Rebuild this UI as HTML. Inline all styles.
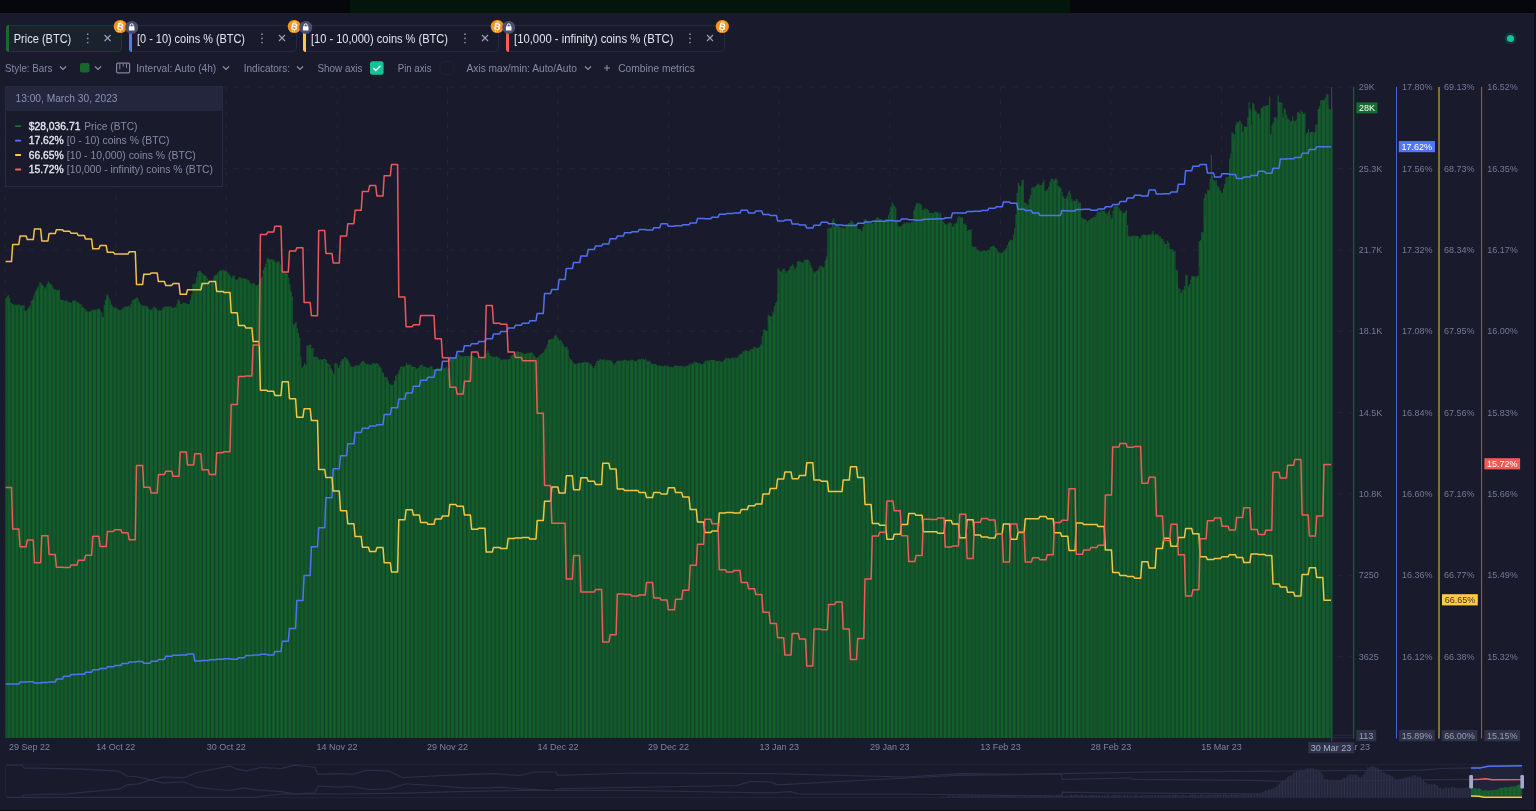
<!DOCTYPE html>
<html><head><meta charset="utf-8"><title>chart</title><style>
*{box-sizing:border-box;margin:0;padding:0}
html,body{width:1536px;height:811px;overflow:hidden;background:#191b2d;font-family:"Liberation Sans",sans-serif;}
body{position:relative}
.chart{position:absolute;left:0;top:0;font-family:"Liberation Sans",sans-serif;}
.topbar{position:absolute;left:0;top:0;width:1536px;height:13px;background:#06070c}
.topbar i{position:absolute;left:350px;top:0;width:720px;height:13px;background:#04150b}
.botbar{position:absolute;left:0;top:809.6px;width:1536px;height:2px;background:#07080d}
.mb{position:absolute;top:25px;height:27px;border:1px solid #25283e;border-radius:4px;color:#e2e4f0;font-size:12px;letter-spacing:-0.45px;line-height:25px;white-space:nowrap}
.mb b{position:absolute;left:-1px;top:-1px;bottom:-1px;width:3.4px;border-radius:4px 0 0 4px}
.mb span{position:absolute;top:0}
.mb .d{color:#8b90ad;font-size:15px;letter-spacing:0;top:-1px}
.mb .x{color:#9da1bd;font-size:14px;letter-spacing:0;top:0px;font-weight:400}
.ic{position:absolute;width:13px;height:13px;border-radius:50%}
.tb{position:absolute;top:61px;height:14px;line-height:14px;font-size:11px;color:#8b90ad;white-space:nowrap;letter-spacing:-0.2px}
.tip{position:absolute;left:5px;top:86px;width:218px;height:100.5px;border:1px solid #272a41;background:#191b2d}
.tip .h{position:absolute;left:0;top:0;right:0;height:24px;background:#23263d;color:#8d92b0;font-size:11px;line-height:23px;padding-left:9.5px;letter-spacing:-0.05px}
.tip .r{position:absolute;left:22.5px;font-size:10.5px;line-height:12px;color:#858aa6;white-space:nowrap;letter-spacing:-0.1px}
.tip .r b{color:#eceef6;font-weight:700;letter-spacing:-0.2px}
.tip .r i{position:absolute;left:-13px;top:5px;width:6px;height:1.8px;border-radius:1px}
</style></head><body><div id="w" style="position:absolute;left:0;top:0;width:1536px;height:811px;filter:blur(0.28px)">
<div class="topbar"><i></i></div>
<svg class="chart" width="1536" height="811" viewBox="0 0 1536 811">
<path d="M5.2 87.2V738.0M115.7 87.2V738.0M226.3 87.2V738.0M336.9 87.2V738.0M447.5 87.2V738.0M558.0 87.2V738.0M668.6 87.2V738.0M779.2 87.2V738.0M889.8 87.2V738.0M1000.4 87.2V738.0M1110.9 87.2V738.0M1221.5 87.2V738.0M5 87.2H1352M5 168.6H1352M5 249.9H1352M5 331.2H1352M5 412.6H1352M5 493.9H1352M5 575.3H1352M5 656.6H1352" stroke="#25283f" stroke-width="1" stroke-dasharray="5 7" fill="none" opacity="0.7"/>
<g style="filter:blur(0.3px)"><path d="M5.30 738.0V298.5h1.214V296.2h1.214V295.2h1.214V297.9h1.214V302.6h1.214V303.5h1.214V304.0h1.214V305.3h1.214V304.5h1.214V305.2h1.214V304.5h1.214V304.6h1.214V305.2h1.214V306.1h1.214V305.1h1.214V305.5h1.214V310.4h1.214V310.8h1.214V308.7h1.214V306.8h1.214V305.3h1.214V300.8h1.214V299.4h1.214V295.5h1.214V292.5h1.214V289.7h1.214V287.4h1.214V285.8h1.214V282.1h1.214V283.3h1.214V284.8h1.214V285.8h1.214V288.2h1.214V286.6h1.214V283.8h1.214V281.2h1.214V282.9h1.214V284.0h1.214V285.5h1.214V287.8h1.214V289.4h1.214V289.2h1.214V290.2h1.214V290.1h1.214V289.8h1.214V299.2h1.214V300.0h1.214V300.0h1.214V300.8h1.214V300.7h1.214V300.2h1.214V302.2h1.214V301.5h1.214V302.8h1.214V302.7h1.214V300.8h1.214V300.6h1.214V300.0h1.214V301.6h1.214V302.3h1.214V302.5h1.214V304.1h1.214V304.5h1.214V306.5h1.214V307.7h1.214V308.7h1.214V309.5h1.214V311.2h1.214V311.7h1.214V310.9h1.214V311.3h1.214V309.6h1.214V310.2h1.214V309.5h1.214V309.5h1.214V309.3h1.214V308.5h1.214V308.8h1.214V310.9h1.214V312.6h1.214V317.0h1.214V305.1h1.214V299.9h1.214V295.4h1.214V294.3h1.214V298.2h1.214V300.5h1.214V304.4h1.214V306.3h1.214V308.0h1.214V307.1h1.214V308.2h1.214V308.8h1.214V309.9h1.214V310.1h1.214V310.1h1.214V308.2h1.214V307.5h1.214V306.5h1.214V306.4h1.214V306.4h1.214V305.8h1.214V306.7h1.214V304.1h1.214V300.4h1.214V299.7h1.214V299.3h1.214V298.1h1.214V297.0h1.214V299.3h1.214V302.1h1.214V304.3h1.214V305.5h1.214V305.4h1.214V305.5h1.214V306.0h1.214V306.5h1.214V306.2h1.214V309.0h1.214V310.0h1.214V309.3h1.214V308.2h1.214V306.5h1.214V307.6h1.214V308.4h1.214V310.5h1.214V310.0h1.214V310.5h1.214V310.5h1.214V308.3h1.214V307.3h1.214V306.6h1.214V306.4h1.214V306.6h1.214V306.4h1.214V306.7h1.214V306.1h1.214V307.9h1.214V307.7h1.214V307.1h1.214V307.3h1.214V303.5h1.214V299.6h1.214V300.8h1.214V304.0h1.214V303.9h1.214V302.4h1.214V303.0h1.214V303.0h1.214V303.5h1.214V304.0h1.214V303.9h1.214V300.1h1.214V294.0h1.214V283.8h1.214V284.7h1.214V283.1h1.214V276.9h1.214V272.4h1.214V271.1h1.214V270.7h1.214V272.2h1.214V273.6h1.214V274.4h1.214V275.5h1.214V276.1h1.214V278.5h1.214V280.2h1.214V283.2h1.214V282.2h1.214V280.9h1.214V277.8h1.214V275.2h1.214V274.8h1.214V273.8h1.214V272.2h1.214V270.8h1.214V270.2h1.214V270.4h1.214V269.7h1.214V270.6h1.214V270.7h1.214V271.4h1.214V272.7h1.214V274.4h1.214V275.8h1.214V278.1h1.214V275.6h1.214V275.4h1.214V279.3h1.214V280.2h1.214V279.2h1.214V277.3h1.214V276.9h1.214V278.1h1.214V279.1h1.214V278.3h1.214V278.0h1.214V279.2h1.214V279.8h1.214V279.9h1.214V282.0h1.214V284.3h1.214V283.3h1.214V282.8h1.214V284.3h1.214V285.5h1.214V285.0h1.214V284.1h1.214V280.9h1.214V278.5h1.214V276.2h1.214V270.0h1.214V267.0h1.214V263.7h1.214V259.1h1.214V257.5h1.214V259.2h1.214V259.4h1.214V259.1h1.214V259.6h1.214V260.3h1.214V262.3h1.214V262.5h1.214V260.9h1.214V261.8h1.214V264.2h1.214V268.3h1.214V272.0h1.214V272.6h1.214V272.1h1.214V272.2h1.214V274.1h1.214V277.6h1.214V284.2h1.214V291.8h1.214V296.5h1.214V324.7h1.214V323.2h1.214V321.8h1.214V328.0h1.214V333.1h1.214V337.7h1.214V356.4h1.214V368.1h1.214V366.0h1.214V363.1h1.214V365.0h1.214V345.7h1.214V345.6h1.214V344.6h1.214V344.7h1.214V348.6h1.214V348.1h1.214V356.9h1.214V356.8h1.214V356.6h1.214V357.4h1.214V359.8h1.214V359.1h1.214V359.9h1.214V359.0h1.214V359.0h1.214V358.9h1.214V360.1h1.214V362.9h1.214V364.1h1.214V365.1h1.214V368.3h1.214V371.0h1.214V373.8h1.214V363.2h1.214V363.3h1.214V364.5h1.214V367.5h1.214V365.0h1.214V361.6h1.214V359.2h1.214V358.8h1.214V357.0h1.214V357.4h1.214V358.8h1.214V360.5h1.214V363.1h1.214V365.2h1.214V367.1h1.214V366.7h1.214V366.4h1.214V365.6h1.214V365.2h1.214V365.5h1.214V365.1h1.214V363.7h1.214V361.7h1.214V360.7h1.214V361.4h1.214V363.0h1.214V364.3h1.214V363.7h1.214V364.2h1.214V364.9h1.214V364.7h1.214V363.3h1.214V363.3h1.214V363.8h1.214V363.1h1.214V363.4h1.214V363.9h1.214V366.3h1.214V368.1h1.214V371.4h1.214V373.1h1.214V377.1h1.214V377.6h1.214V377.1h1.214V380.7h1.214V384.6h1.214V383.6h1.214V385.2h1.214V384.4h1.214V380.4h1.214V375.8h1.214V375.1h1.214V373.5h1.214V370.0h1.214V367.1h1.214V366.8h1.214V366.6h1.214V366.8h1.214V366.0h1.214V363.0h1.214V364.4h1.214V364.7h1.214V364.5h1.214V365.6h1.214V366.7h1.214V367.1h1.214V366.9h1.214V368.8h1.214V367.9h1.214V367.6h1.214V365.5h1.214V365.1h1.214V364.6h1.214V366.7h1.214V366.5h1.214V367.0h1.214V367.8h1.214V368.0h1.214V367.3h1.214V365.9h1.214V366.6h1.214V368.9h1.214V369.2h1.214V369.3h1.214V368.0h1.214V367.7h1.214V368.6h1.214V367.9h1.214V367.0h1.214V368.4h1.214V367.6h1.214V367.7h1.214V366.7h1.214V368.5h1.214V368.1h1.214V356.6h1.214V358.1h1.214V357.3h1.214V357.1h1.214V357.5h1.214V357.1h1.214V354.9h1.214V353.6h1.214V355.3h1.214V356.2h1.214V356.6h1.214V356.4h1.214V356.0h1.214V356.0h1.214V356.0h1.214V355.7h1.214V356.3h1.214V355.2h1.214V355.7h1.214V355.8h1.214V356.9h1.214V357.0h1.214V357.9h1.214V357.3h1.214V358.5h1.214V358.0h1.214V357.2h1.214V357.5h1.214V358.2h1.214V354.5h1.214V353.4h1.214V350.4h1.214V352.7h1.214V355.5h1.214V356.2h1.214V356.4h1.214V356.7h1.214V357.3h1.214V356.1h1.214V357.0h1.214V357.6h1.214V358.7h1.214V359.4h1.214V360.0h1.214V359.3h1.214V359.3h1.214V359.0h1.214V360.0h1.214V359.0h1.214V358.7h1.214V356.2h1.214V355.1h1.214V353.9h1.214V353.0h1.214V351.8h1.214V351.3h1.214V351.4h1.214V352.1h1.214V352.0h1.214V352.9h1.214V353.0h1.214V354.2h1.214V354.1h1.214V353.2h1.214V352.5h1.214V353.6h1.214V352.3h1.214V352.6h1.214V353.2h1.214V355.1h1.214V356.5h1.214V357.8h1.214V357.2h1.214V356.5h1.214V354.4h1.214V354.0h1.214V352.8h1.214V352.4h1.214V349.8h1.214V347.7h1.214V344.8h1.214V339.9h1.214V339.6h1.214V339.1h1.214V339.1h1.214V338.6h1.214V335.8h1.214V334.4h1.214V336.8h1.214V338.4h1.214V340.5h1.214V339.8h1.214V341.7h1.214V344.2h1.214V346.8h1.214V347.3h1.214V346.6h1.214V350.0h1.214V356.7h1.214V359.0h1.214V359.8h1.214V362.1h1.214V363.5h1.214V364.0h1.214V363.7h1.214V363.5h1.214V362.8h1.214V363.1h1.214V362.6h1.214V362.7h1.214V362.0h1.214V361.8h1.214V362.1h1.214V362.6h1.214V362.3h1.214V363.7h1.214V363.9h1.214V366.0h1.214V368.1h1.214V365.8h1.214V362.9h1.214V360.6h1.214V360.7h1.214V359.4h1.214V359.2h1.214V359.5h1.214V359.9h1.214V359.1h1.214V360.6h1.214V359.9h1.214V359.5h1.214V359.9h1.214V360.7h1.214V360.4h1.214V363.0h1.214V365.1h1.214V363.0h1.214V361.6h1.214V360.5h1.214V360.7h1.214V360.8h1.214V360.6h1.214V360.7h1.214V359.7h1.214V359.8h1.214V360.0h1.214V361.0h1.214V360.2h1.214V360.7h1.214V359.7h1.214V359.8h1.214V360.2h1.214V361.0h1.214V360.9h1.214V360.5h1.214V359.3h1.214V359.3h1.214V359.2h1.214V359.2h1.214V358.6h1.214V360.0h1.214V358.8h1.214V360.6h1.214V361.4h1.214V360.6h1.214V362.2h1.214V363.6h1.214V364.4h1.214V363.9h1.214V364.1h1.214V364.5h1.214V366.1h1.214V365.0h1.214V365.9h1.214V365.4h1.214V366.0h1.214V366.6h1.214V364.9h1.214V365.9h1.214V365.5h1.214V366.8h1.214V367.1h1.214V366.6h1.214V367.5h1.214V366.6h1.214V365.6h1.214V365.3h1.214V366.1h1.214V366.1h1.214V366.0h1.214V365.7h1.214V366.2h1.214V366.2h1.214V367.3h1.214V365.6h1.214V366.2h1.214V365.5h1.214V363.5h1.214V364.4h1.214V363.6h1.214V363.4h1.214V361.8h1.214V362.1h1.214V362.3h1.214V363.5h1.214V363.0h1.214V363.2h1.214V363.9h1.214V364.3h1.214V362.4h1.214V360.7h1.214V360.9h1.214V359.9h1.214V361.1h1.214V359.8h1.214V359.9h1.214V360.3h1.214V359.7h1.214V360.1h1.214V361.1h1.214V361.0h1.214V360.9h1.214V360.6h1.214V361.6h1.214V362.2h1.214V360.7h1.214V359.6h1.214V357.5h1.214V358.7h1.214V358.1h1.214V358.6h1.214V358.4h1.214V357.7h1.214V357.2h1.214V358.8h1.214V357.3h1.214V357.9h1.214V356.7h1.214V355.1h1.214V354.3h1.214V353.5h1.214V351.5h1.214V351.4h1.214V350.0h1.214V350.4h1.214V350.9h1.214V351.3h1.214V350.1h1.214V349.1h1.214V349.2h1.214V347.3h1.214V346.8h1.214V348.1h1.214V348.3h1.214V347.4h1.214V346.6h1.214V344.3h1.214V336.2h1.214V329.8h1.214V329.7h1.214V330.3h1.214V330.9h1.214V314.8h1.214V315.7h1.214V316.5h1.214V316.6h1.214V311.8h1.214V306.1h1.214V303.2h1.214V301.6h1.214V268.4h1.214V269.9h1.214V271.8h1.214V271.3h1.214V269.3h1.214V268.5h1.214V270.5h1.214V272.5h1.214V271.1h1.214V269.8h1.214V267.1h1.214V265.8h1.214V264.3h1.214V266.6h1.214V269.3h1.214V267.3h1.214V261.4h1.214V261.2h1.214V260.9h1.214V262.1h1.214V262.9h1.214V261.6h1.214V259.6h1.214V260.0h1.214V259.2h1.214V260.1h1.214V261.8h1.214V264.8h1.214V268.0h1.214V271.3h1.214V272.7h1.214V271.6h1.214V270.9h1.214V269.5h1.214V266.9h1.214V265.5h1.214V266.0h1.214V266.8h1.214V267.6h1.214V260.5h1.214V256.6h1.214V229.2h1.214V227.5h1.214V228.2h1.214V227.3h1.214V220.3h1.214V217.9h1.214V225.6h1.214V225.3h1.214V225.4h1.214V226.0h1.214V227.1h1.214V227.7h1.214V227.3h1.214V227.9h1.214V228.6h1.214V226.3h1.214V224.4h1.214V223.2h1.214V222.9h1.214V220.8h1.214V221.3h1.214V222.4h1.214V224.0h1.214V224.1h1.214V226.5h1.214V228.9h1.214V228.9h1.214V229.3h1.214V230.9h1.214V226.7h1.214V219.3h1.214V219.5h1.214V219.8h1.214V221.6h1.214V222.7h1.214V222.9h1.214V223.2h1.214V223.2h1.214V222.4h1.214V219.8h1.214V218.1h1.214V217.3h1.214V217.9h1.214V219.1h1.214V218.9h1.214V220.7h1.214V220.3h1.214V219.4h1.214V218.4h1.214V219.3h1.214V215.1h1.214V212.3h1.214V206.7h1.214V202.2h1.214V204.2h1.214V205.8h1.214V207.6h1.214V220.4h1.214V226.2h1.214V226.5h1.214V226.3h1.214V225.5h1.214V223.8h1.214V222.6h1.214V223.4h1.214V222.3h1.214V223.0h1.214V222.5h1.214V223.6h1.214V221.9h1.214V221.5h1.214V210.5h1.214V206.7h1.214V203.3h1.214V203.3h1.214V203.6h1.214V203.7h1.214V204.6h1.214V210.3h1.214V209.4h1.214V208.3h1.214V208.7h1.214V209.3h1.214V210.1h1.214V212.9h1.214V212.7h1.214V213.0h1.214V213.2h1.214V212.3h1.214V211.4h1.214V211.9h1.214V212.4h1.214V213.8h1.214V212.7h1.214V218.3h1.214V221.9h1.214V222.7h1.214V224.1h1.214V224.6h1.214V223.6h1.214V222.4h1.214V222.5h1.214V223.4h1.214V226.9h1.214V224.5h1.214V223.6h1.214V222.5h1.214V218.1h1.214V216.3h1.214V217.3h1.214V217.6h1.214V217.4h1.214V224.3h1.214V223.0h1.214V224.8h1.214V231.1h1.214V229.9h1.214V230.0h1.214V229.1h1.214V245.7h1.214V246.9h1.214V246.5h1.214V247.0h1.214V249.5h1.214V250.5h1.214V251.1h1.214V251.8h1.214V250.9h1.214V250.6h1.214V250.0h1.214V251.1h1.214V251.0h1.214V249.9h1.214V249.8h1.214V247.3h1.214V246.5h1.214V245.7h1.214V245.9h1.214V247.7h1.214V248.6h1.214V250.4h1.214V252.4h1.214V252.5h1.214V253.3h1.214V251.9h1.214V251.6h1.214V249.9h1.214V247.9h1.214V245.0h1.214V242.0h1.214V239.6h1.214V240.0h1.214V240.5h1.214V234.5h1.214V228.1h1.214V214.5h1.214V193.0h1.214V182.5h1.214V185.2h1.214V187.1h1.214V180.3h1.214V179.5h1.214V202.7h1.214V202.7h1.214V203.8h1.214V205.6h1.214V198.6h1.214V194.9h1.214V188.0h1.214V187.0h1.214V187.5h1.214V186.6h1.214V185.3h1.214V183.5h1.214V184.5h1.214V185.2h1.214V185.0h1.214V182.5h1.214V179.8h1.214V191.0h1.214V190.4h1.214V188.9h1.214V187.0h1.214V181.7h1.214V178.9h1.214V178.6h1.214V180.5h1.214V179.4h1.214V178.1h1.214V180.3h1.214V185.7h1.214V186.4h1.214V188.0h1.214V191.8h1.214V196.3h1.214V198.4h1.214V198.7h1.214V196.1h1.214V192.7h1.214V190.6h1.214V193.6h1.214V199.1h1.214V201.2h1.214V200.6h1.214V201.0h1.214V199.1h1.214V200.7h1.214V202.5h1.214V202.7h1.214V217.4h1.214V218.6h1.214V219.5h1.214V218.9h1.214V220.6h1.214V221.5h1.214V220.0h1.214V219.7h1.214V217.9h1.214V218.2h1.214V216.8h1.214V217.3h1.214V214.8h1.214V211.5h1.214V211.8h1.214V211.8h1.214V210.1h1.214V210.7h1.214V211.1h1.214V210.7h1.214V213.1h1.214V214.2h1.214V212.2h1.214V210.3h1.214V215.0h1.214V218.3h1.214V211.1h1.214V205.9h1.214V205.3h1.214V205.7h1.214V206.2h1.214V207.7h1.214V209.8h1.214V211.2h1.214V212.9h1.214V212.8h1.214V211.3h1.214V210.5h1.214V225.0h1.214V235.9h1.214V236.2h1.214V236.4h1.214V235.4h1.214V235.4h1.214V236.2h1.214V235.5h1.214V235.8h1.214V236.6h1.214V238.5h1.214V236.4h1.214V235.3h1.214V234.6h1.214V234.4h1.214V234.9h1.214V235.3h1.214V234.4h1.214V234.3h1.214V235.5h1.214V233.5h1.214V231.0h1.214V234.9h1.214V233.8h1.214V234.4h1.214V234.5h1.214V236.3h1.214V236.4h1.214V238.5h1.214V238.9h1.214V240.9h1.214V244.2h1.214V243.8h1.214V240.6h1.214V243.1h1.214V249.1h1.214V249.4h1.214V249.2h1.214V251.0h1.214V251.6h1.214V269.8h1.214V270.3h1.214V288.8h1.214V288.4h1.214V292.9h1.214V289.8h1.214V289.8h1.214V285.9h1.214V274.5h1.214V275.4h1.214V286.4h1.214V283.9h1.214V279.4h1.214V275.7h1.214V276.2h1.214V276.0h1.214V277.6h1.214V276.1h1.214V275.4h1.214V241.2h1.214V240.0h1.214V231.8h1.214V232.4h1.214V197.9h1.214V193.2h1.214V194.6h1.214V189.3h1.214V190.2h1.214V179.1h1.214V154.9h1.214V176.0h1.214V180.1h1.214V181.2h1.214V179.9h1.214V185.4h1.214V186.8h1.214V189.9h1.214V191.5h1.214V192.9h1.214V188.2h1.214V183.8h1.214V177.6h1.214V177.0h1.214V176.8h1.214V158.4h1.214V153.4h1.214V132.2h1.214V133.5h1.214V134.5h1.214V125.2h1.214V122.1h1.214V122.8h1.214V120.7h1.214V121.6h1.214V123.7h1.214V131.6h1.214V126.4h1.214V126.5h1.214V126.7h1.214V117.2h1.214V102.3h1.214V108.7h1.214V124.6h1.214V102.8h1.214V103.7h1.214V110.7h1.214V111.8h1.214V113.9h1.214V113.1h1.214V119.1h1.214V108.4h1.214V107.4h1.214V106.1h1.214V106.3h1.214V105.6h1.214V105.1h1.214V105.2h1.214V96.4h1.214V135.0h1.214V125.1h1.214V122.3h1.214V117.2h1.214V117.2h1.214V118.6h1.214V95.4h1.214V101.9h1.214V102.0h1.214V103.0h1.214V117.5h1.214V108.0h1.214V109.8h1.214V114.7h1.214V118.3h1.214V119.8h1.214V121.3h1.214V121.1h1.214V116.2h1.214V121.1h1.214V120.7h1.214V119.4h1.214V112.2h1.214V112.2h1.214V113.5h1.214V110.2h1.214V112.1h1.214V114.0h1.214V112.4h1.214V133.6h1.214V132.3h1.214V129.0h1.214V132.3h1.214V131.7h1.214V131.6h1.214V132.4h1.214V132.5h1.214V124.6h1.214V124.8h1.214V109.0h1.214V106.2h1.214V100.6h1.214V100.1h1.214V99.9h1.214V99.8h1.214V97.8h1.214V93.4h1.214V94.4h1.214V109.2h1.214V109.5h1.214V738.0Z" fill="#14542b"/>
<path d="" stroke="#173a2f" stroke-width="1.25" fill="none" opacity="0.17"/>
<path d="M6.90 299.5V738.0M51.67 287.5V738.0M55.74 290.6V738.0M59.81 300.7V738.0M63.88 301.2V738.0M67.95 303.0V738.0M112.72 308.2V738.0M116.79 309.7V738.0M120.86 310.5V738.0M124.93 308.3V738.0M129.00 308.4V738.0M173.77 308.7V738.0M177.84 305.0V738.0M181.91 304.4V738.0M185.98 305.2V738.0M190.05 305.4V738.0M234.82 280.1V738.0M238.89 279.2V738.0M242.96 280.7V738.0M247.03 280.4V738.0M251.10 285.7V738.0M295.87 326.3V738.0M299.94 351.5V738.0M304.01 367.9V738.0M308.08 353.5V738.0M312.15 350.3V738.0M356.92 366.3V738.0M360.99 365.0V738.0M365.06 363.9V738.0M369.13 365.2V738.0M373.20 365.0V738.0M417.97 368.5V738.0M422.04 366.8V738.0M426.11 369.0V738.0M430.18 367.8V738.0M434.25 370.0V738.0M479.02 359.2V738.0M483.09 358.7V738.0M487.16 354.5V738.0M491.23 357.4V738.0M495.30 357.4V738.0M540.07 357.2V738.0M544.14 353.9V738.0M548.21 346.2V738.0M552.28 339.9V738.0M556.35 338.0V738.0M601.12 360.4V738.0M605.19 361.2V738.0M609.26 361.3V738.0M613.33 365.1V738.0M617.40 362.8V738.0M662.17 367.1V738.0M666.24 366.5V738.0M670.31 368.1V738.0M674.38 367.6V738.0M678.45 367.3V738.0M723.22 362.5V738.0M727.29 359.3V738.0M731.36 359.1V738.0M735.43 359.0V738.0M739.50 357.1V738.0M784.27 271.2V738.0M788.34 272.2V738.0M792.41 267.0V738.0M796.48 270.5V738.0M800.55 264.1V738.0M845.32 230.1V738.0M849.39 224.6V738.0M853.46 223.9V738.0M857.53 230.1V738.0M861.60 230.9V738.0M906.37 224.0V738.0M910.44 223.9V738.0M914.51 217.3V738.0M918.58 204.1V738.0M922.65 211.0V738.0M967.42 231.7V738.0M971.49 244.1V738.0M975.56 248.6V738.0M979.63 252.6V738.0M983.70 252.1V738.0M1028.47 206.2V738.0M1032.54 188.8V738.0M1036.61 188.1V738.0M1040.68 186.1V738.0M1044.75 190.1V738.0M1089.52 221.9V738.0M1093.59 218.3V738.0M1097.66 214.3V738.0M1101.73 211.8V738.0M1105.80 215.4V738.0M1150.57 236.2V738.0M1154.64 235.1V738.0M1158.71 236.7V738.0M1162.78 240.8V738.0M1166.85 244.5V738.0M1211.62 179.7V738.0M1215.69 181.9V738.0M1219.76 191.9V738.0M1223.83 193.4V738.0M1227.90 178.7V738.0M1272.67 131.7V738.0M1276.74 118.9V738.0M1280.81 104.6V738.0M1284.88 112.3V738.0M1288.95 121.2V738.0" stroke="#173a2f" stroke-width="1.25" fill="none" opacity="0.34"/>
<path d="M10.97 304.5V738.0M15.04 306.3V738.0M43.53 288.4V738.0M47.60 286.5V738.0M72.02 303.4V738.0M76.09 302.6V738.0M104.58 309.5V738.0M108.65 299.5V738.0M133.07 301.6V738.0M137.14 299.7V738.0M165.63 308.5V738.0M169.70 308.1V738.0M194.12 286.6V738.0M198.19 275.1V738.0M226.68 273.9V738.0M230.75 278.5V738.0M255.17 286.0V738.0M259.24 285.1V738.0M287.73 276.8V738.0M291.80 300.1V738.0M316.22 358.1V738.0M320.29 360.3V738.0M348.78 364.2V738.0M352.85 367.9V738.0M377.27 365.0V738.0M381.34 371.3V738.0M409.83 366.6V738.0M413.90 368.5V738.0M438.32 369.6V738.0M442.39 368.9V738.0M470.88 356.7V738.0M474.95 358.9V738.0M499.37 359.5V738.0M503.44 361.2V738.0M531.93 355.0V738.0M536.00 359.1V738.0M560.42 341.8V738.0M564.49 348.5V738.0M592.98 368.9V738.0M597.05 363.6V738.0M621.47 361.4V738.0M625.54 361.5V738.0M654.03 365.2V738.0M658.10 366.5V738.0M682.52 367.6V738.0M686.59 367.5V738.0M715.08 361.3V738.0M719.15 361.4V738.0M743.57 353.0V738.0M747.64 352.5V738.0M776.13 305.1V738.0M780.20 273.9V738.0M804.62 261.6V738.0M808.69 261.5V738.0M837.18 227.2V738.0M841.25 228.8V738.0M865.67 221.5V738.0M869.74 224.1V738.0M898.23 227.3V738.0M902.30 227.8V738.0M926.72 210.0V738.0M930.79 214.0V738.0M959.28 218.4V738.0M963.35 225.8V738.0M987.77 251.2V738.0M991.84 248.7V738.0M1020.33 188.0V738.0M1024.40 204.0V738.0M1048.82 189.1V738.0M1052.89 180.8V738.0M1081.38 218.5V738.0M1085.45 221.7V738.0M1109.87 215.3V738.0M1113.94 212.2V738.0M1142.43 237.0V738.0M1146.50 235.4V738.0M1170.92 250.7V738.0M1174.99 252.7V738.0M1203.48 240.8V738.0M1207.55 195.1V738.0M1231.97 151.9V738.0M1236.04 130.6V738.0M1264.53 107.6V738.0M1268.60 106.8V738.0M1293.02 125.5V738.0M1297.09 121.3V738.0M1325.58 99.5V738.0M1329.65 111.1V738.0" stroke="#173a2f" stroke-width="1.25" fill="none" opacity="0.51"/>
<path d="M19.11 306.3V738.0M23.18 307.0V738.0M27.25 311.1V738.0M31.32 304.7V738.0M35.39 295.2V738.0M39.46 286.3V738.0M80.16 305.6V738.0M84.23 309.7V738.0M88.30 311.9V738.0M92.37 311.7V738.0M96.44 309.8V738.0M100.51 312.7V738.0M141.21 305.7V738.0M145.28 307.0V738.0M149.35 310.2V738.0M153.42 308.8V738.0M157.49 311.5V738.0M161.56 312.5V738.0M202.26 273.9V738.0M206.33 279.2V738.0M210.40 283.5V738.0M214.47 278.8V738.0M218.54 273.3V738.0M222.61 271.3V738.0M263.31 273.9V738.0M267.38 261.4V738.0M271.45 260.9V738.0M275.52 263.0V738.0M279.59 264.7V738.0M283.66 273.6V738.0M324.36 359.9V738.0M328.43 366.0V738.0M332.50 375.1V738.0M336.57 365.8V738.0M340.64 365.7V738.0M344.71 359.2V738.0M385.41 378.4V738.0M389.48 385.0V738.0M393.55 385.7V738.0M397.62 375.5V738.0M401.69 368.1V738.0M405.76 367.2V738.0M446.46 368.7V738.0M450.53 362.0V738.0M454.60 358.4V738.0M458.67 356.1V738.0M462.74 358.4V738.0M466.81 357.6V738.0M507.51 360.7V738.0M511.58 358.3V738.0M515.65 353.6V738.0M519.72 353.5V738.0M523.79 354.5V738.0M527.86 354.0V738.0M568.56 357.5V738.0M572.63 363.7V738.0M576.70 364.2V738.0M580.77 363.4V738.0M584.84 363.7V738.0M588.91 364.1V738.0M629.61 361.6V738.0M633.68 361.7V738.0M637.75 361.3V738.0M641.82 360.3V738.0M645.89 360.5V738.0M649.96 363.4V738.0M690.66 365.0V738.0M694.73 363.4V738.0M698.80 364.0V738.0M702.87 365.7V738.0M706.94 361.3V738.0M711.01 361.3V738.0M751.71 351.1V738.0M755.78 348.4V738.0M759.85 348.6V738.0M763.92 331.4V738.0M767.99 325.7V738.0M772.06 317.1V738.0M812.76 272.1V738.0M816.83 273.2V738.0M820.90 266.5V738.0M824.97 268.4V738.0M829.04 229.9V738.0M833.11 223.4V738.0M873.81 223.7V738.0M877.88 219.3V738.0M881.95 221.3V738.0M886.02 220.3V738.0M890.09 214.4V738.0M894.16 207.7V738.0M934.86 214.2V738.0M938.93 214.1V738.0M943.00 223.7V738.0M947.07 225.1V738.0M951.14 225.0V738.0M955.21 225.8V738.0M995.91 249.9V738.0M999.98 253.5V738.0M1004.05 253.0V738.0M1008.12 246.2V738.0M1012.19 241.7V738.0M1016.26 222.9V738.0M1056.96 183.1V738.0M1061.03 191.7V738.0M1065.10 199.5V738.0M1069.17 193.7V738.0M1073.24 201.7V738.0M1077.31 201.9V738.0M1118.01 208.3V738.0M1122.08 213.3V738.0M1126.15 217.0V738.0M1130.22 237.1V738.0M1134.29 237.0V738.0M1138.36 238.2V738.0M1179.06 290.0V738.0M1183.13 290.6V738.0M1187.20 286.6V738.0M1191.27 281.7V738.0M1195.34 278.2V738.0M1199.41 265.9V738.0M1240.11 123.2V738.0M1244.18 132.2V738.0M1248.25 124.2V738.0M1252.32 120.8V738.0M1256.39 114.1V738.0M1260.46 119.8V738.0M1301.16 113.6V738.0M1305.23 128.6V738.0M1309.30 133.1V738.0M1313.37 133.5V738.0M1317.44 126.0V738.0M1321.51 102.2V738.0" stroke="#173a2f" stroke-width="1.25" fill="none" opacity="0.68"/>
<path d="" stroke="#173a2f" stroke-width="1.25" fill="none" opacity="0.85"/>
<path d="" stroke="#11702a" stroke-width="2.2" fill="none" opacity="0.11"/>
<path d="M8.94 301.3V738.0M53.70 290.5V738.0M57.78 291.4V738.0M61.84 301.0V738.0M65.92 301.8V738.0M69.98 303.8V738.0M114.76 309.1V738.0M118.83 310.5V738.0M122.90 310.2V738.0M126.97 307.1V738.0M131.03 308.5V738.0M175.81 309.0V738.0M179.88 304.4V738.0M183.95 304.4V738.0M188.02 305.4V738.0M192.09 296.6V738.0M236.86 280.4V738.0M240.93 280.1V738.0M245.00 279.8V738.0M249.07 283.1V738.0M253.14 285.5V738.0M297.91 335.8V738.0M301.98 368.2V738.0M306.05 367.0V738.0M310.12 350.5V738.0M314.19 358.1V738.0M358.96 366.2V738.0M363.03 362.4V738.0M367.10 365.2V738.0M371.17 365.1V738.0M375.24 364.9V738.0M420.01 367.7V738.0M424.08 368.1V738.0M428.15 369.0V738.0M432.22 369.1V738.0M436.29 370.0V738.0M481.06 359.0V738.0M485.13 358.4V738.0M489.20 355.8V738.0M493.27 357.4V738.0M497.34 357.8V738.0M542.11 355.7V738.0M546.17 351.5V738.0M550.25 340.7V738.0M554.31 339.4V738.0M558.38 340.5V738.0M603.15 360.9V738.0M607.23 361.3V738.0M611.29 362.8V738.0M615.37 365.1V738.0M619.43 361.4V738.0M664.21 366.9V738.0M668.27 367.4V738.0M672.35 368.0V738.0M676.41 367.3V738.0M680.49 367.4V738.0M725.25 360.8V738.0M729.33 359.2V738.0M733.39 359.1V738.0M737.47 358.9V738.0M741.53 355.0V738.0M786.30 273.9V738.0M790.38 269.8V738.0M794.45 271.1V738.0M798.51 262.4V738.0M802.59 264.3V738.0M847.36 226.9V738.0M851.42 223.2V738.0M855.50 225.7V738.0M859.57 230.7V738.0M863.63 229.7V738.0M908.40 224.1V738.0M912.48 223.6V738.0M916.54 208.1V738.0M920.62 206.2V738.0M924.69 210.9V738.0M969.46 231.6V738.0M973.52 247.7V738.0M977.60 251.7V738.0M981.66 252.4V738.0M985.74 251.8V738.0M1030.51 200.2V738.0M1034.58 188.0V738.0M1038.65 185.9V738.0M1042.72 186.1V738.0M1046.79 191.1V738.0M1091.56 219.4V738.0M1095.63 217.8V738.0M1099.70 212.3V738.0M1103.77 212.5V738.0M1107.84 215.7V738.0M1152.61 236.0V738.0M1156.68 235.4V738.0M1160.75 240.2V738.0M1164.82 244.6V738.0M1168.89 248.2V738.0M1213.66 182.0V738.0M1217.73 188.2V738.0M1221.80 194.2V738.0M1225.87 183.8V738.0M1229.94 171.3V738.0M1274.71 123.8V738.0M1278.78 103.1V738.0M1282.85 113.2V738.0M1286.92 120.2V738.0M1290.99 122.0V738.0" stroke="#11702a" stroke-width="2.2" fill="none" opacity="0.22"/>
<path d="M13.01 306.3V738.0M17.08 306.3V738.0M45.56 289.4V738.0M49.64 285.0V738.0M74.06 302.2V738.0M78.12 303.6V738.0M106.62 301.3V738.0M110.69 306.7V738.0M135.11 300.4V738.0M139.18 305.0V738.0M167.67 308.3V738.0M171.74 308.4V738.0M196.16 284.5V738.0M200.23 273.1V738.0M228.72 276.4V738.0M232.79 278.7V738.0M257.21 286.0V738.0M261.28 281.0V738.0M289.77 289.9V738.0M293.84 324.2V738.0M318.26 360.3V738.0M322.33 360.1V738.0M350.81 367.3V738.0M354.89 367.5V738.0M379.31 367.6V738.0M383.38 377.1V738.0M411.87 367.6V738.0M415.94 369.1V738.0M440.36 369.3V738.0M444.43 368.5V738.0M472.92 357.8V738.0M476.99 359.4V738.0M501.41 361.2V738.0M505.48 361.0V738.0M533.97 357.3V738.0M538.03 359.2V738.0M562.45 346.0V738.0M566.52 348.4V738.0M595.01 368.6V738.0M599.09 361.7V738.0M623.50 361.4V738.0M627.58 361.5V738.0M656.06 366.2V738.0M660.13 367.0V738.0M684.55 367.6V738.0M688.62 366.4V738.0M717.12 361.3V738.0M721.18 362.5V738.0M745.61 351.9V738.0M749.67 352.6V738.0M778.16 293.6V738.0M782.24 274.1V738.0M806.65 261.2V738.0M810.73 267.6V738.0M839.22 228.0V738.0M843.28 230.0V738.0M867.71 223.2V738.0M871.77 224.7V738.0M900.26 228.0V738.0M904.34 224.9V738.0M928.75 213.6V738.0M932.83 214.3V738.0M961.32 218.5V738.0M965.38 227.3V738.0M989.81 250.4V738.0M993.88 247.2V738.0M1022.37 184.6V738.0M1026.44 206.1V738.0M1050.86 183.6V738.0M1054.93 180.9V738.0M1083.42 220.0V738.0M1087.49 223.0V738.0M1111.91 218.3V738.0M1115.98 207.4V738.0M1144.47 235.9V738.0M1148.54 235.9V738.0M1172.96 252.4V738.0M1177.03 284.2V738.0M1205.52 215.6V738.0M1209.59 192.7V738.0M1234.01 140.9V738.0M1238.08 124.0V738.0M1266.57 106.5V738.0M1270.64 132.7V738.0M1295.06 124.7V738.0M1299.13 113.7V738.0M1327.62 105.3V738.0" stroke="#11702a" stroke-width="2.2" fill="none" opacity="0.34"/>
<path d="M21.14 306.6V738.0M25.21 311.3V738.0M29.29 309.0V738.0M33.36 300.6V738.0M37.42 291.2V738.0M41.50 285.9V738.0M82.20 308.2V738.0M86.27 311.7V738.0M90.34 312.0V738.0M94.41 310.8V738.0M98.48 310.0V738.0M102.55 317.8V738.0M143.25 306.5V738.0M147.31 308.5V738.0M151.39 310.4V738.0M155.46 310.2V738.0M159.53 312.5V738.0M163.60 310.0V738.0M204.30 276.6V738.0M208.37 283.1V738.0M212.44 283.1V738.0M216.51 275.8V738.0M220.58 271.4V738.0M224.65 272.1V738.0M265.35 268.3V738.0M269.42 260.0V738.0M273.49 262.1V738.0M277.56 263.0V738.0M281.62 273.2V738.0M285.69 274.1V738.0M326.40 363.8V738.0M330.47 369.6V738.0M334.54 375.5V738.0M338.61 368.5V738.0M342.68 361.5V738.0M346.75 360.5V738.0M387.45 381.5V738.0M391.52 385.5V738.0M395.59 381.2V738.0M399.66 374.3V738.0M403.73 368.1V738.0M407.80 365.8V738.0M448.50 369.0V738.0M452.57 358.4V738.0M456.64 358.0V738.0M460.71 358.3V738.0M464.78 358.0V738.0M468.85 357.2V738.0M509.55 360.5V738.0M513.62 354.9V738.0M517.69 352.9V738.0M521.75 354.3V738.0M525.82 354.3V738.0M529.89 353.8V738.0M570.60 361.4V738.0M574.66 364.5V738.0M578.74 363.9V738.0M582.80 363.5V738.0M586.88 363.9V738.0M590.94 366.3V738.0M631.64 361.6V738.0M635.72 361.7V738.0M639.78 360.6V738.0M643.86 360.3V738.0M647.92 362.2V738.0M652.00 364.5V738.0M692.69 364.3V738.0M696.76 363.6V738.0M700.84 365.2V738.0M704.90 364.6V738.0M708.98 361.3V738.0M713.04 361.3V738.0M753.75 349.4V738.0M757.82 348.5V738.0M761.88 346.5V738.0M765.96 331.7V738.0M770.02 316.9V738.0M774.10 314.3V738.0M814.79 273.9V738.0M818.87 271.4V738.0M822.93 268.3V738.0M827.00 259.2V738.0M831.08 228.9V738.0M835.14 226.6V738.0M875.85 221.8V738.0M879.91 220.3V738.0M883.99 221.2V738.0M888.06 219.7V738.0M892.12 208.2V738.0M896.20 221.4V738.0M936.89 213.6V738.0M940.97 218.7V738.0M945.03 224.7V738.0M949.11 224.8V738.0M953.17 227.0V738.0M957.25 223.9V738.0M997.95 253.5V738.0M1002.01 253.5V738.0M1006.09 250.7V738.0M1010.15 242.3V738.0M1014.23 238.5V738.0M1018.30 200.6V738.0M1059.00 188.3V738.0M1063.07 198.4V738.0M1067.14 199.6V738.0M1071.21 201.8V738.0M1075.28 201.4V738.0M1079.35 207.0V738.0M1120.05 212.0V738.0M1124.12 213.7V738.0M1128.19 237.1V738.0M1132.26 237.1V738.0M1136.33 237.1V738.0M1140.40 238.8V738.0M1181.10 293.2V738.0M1185.17 289.8V738.0M1189.24 286.6V738.0M1193.31 277.4V738.0M1197.38 277.5V738.0M1201.45 241.0V738.0M1242.15 132.8V738.0M1246.22 127.6V738.0M1250.29 110.2V738.0M1254.36 109.3V738.0M1258.43 115.0V738.0M1262.50 109.2V738.0M1303.20 113.7V738.0M1307.27 134.0V738.0M1311.34 133.5V738.0M1315.41 132.1V738.0M1319.48 109.2V738.0M1323.55 101.8V738.0" stroke="#11702a" stroke-width="2.2" fill="none" opacity="0.45"/>
<path d="" stroke="#11702a" stroke-width="2.2" fill="none" opacity="0.56"/>
</g>
<path d="M1331.6 87V741.5" stroke="#3c3f58" stroke-width="1.2"/>
<rect x="1331.9" y="108" width="1.2" height="630" fill="#14502a" opacity="0.55"/>
<path d="M5.6 684.0 L11.5 684.0 L12.7 684.0 L18.8 684.0 L20.0 682.1 L26.1 682.1 L27.3 681.7 L33.3 681.7 L34.5 683.0 L40.6 683.0 L41.8 682.5 L47.9 682.5 L49.1 682.1 L55.2 682.1 L56.4 679.1 L62.5 679.1 L63.7 676.2 L69.8 676.2 L71.0 674.6 L77.0 674.6 L78.2 674.3 L84.3 674.3 L85.5 672.3 L91.6 672.3 L92.8 669.8 L98.9 669.8 L100.1 668.4 L106.2 668.4 L107.4 666.8 L113.5 666.8 L114.7 665.5 L120.8 665.5 L122.0 663.5 L128.0 663.5 L129.2 662.1 L135.3 662.1 L136.5 661.6 L142.6 661.6 L143.8 663.3 L149.9 663.3 L151.1 661.2 L157.2 661.2 L158.4 659.6 L164.5 659.6 L165.7 656.3 L171.8 656.3 L173.0 655.3 L179.0 655.3 L180.2 655.1 L186.3 655.1 L187.5 653.9 L193.6 653.9 L194.8 661.0 L200.9 661.0 L202.1 660.4 L208.2 660.4 L209.4 659.8 L215.5 659.8 L216.7 659.2 L222.8 659.2 L224.0 658.8 L230.0 658.8 L231.2 659.2 L237.3 659.2 L238.5 657.7 L244.6 657.7 L245.8 655.5 L251.9 655.5 L253.1 655.1 L259.2 655.1 L260.4 654.3 L266.5 654.3 L267.7 654.9 L273.7 654.9 L274.9 651.4 L281.0 651.4 L282.2 641.3 L288.3 641.3 L289.5 628.4 L295.6 628.4 L296.8 600.6 L302.9 600.6 L304.1 575.5 L310.2 575.5 L311.4 546.8 L317.5 546.8 L318.7 527.7 L324.7 527.7 L325.9 497.8 L332.0 497.8 L333.2 468.7 L339.3 468.7 L340.5 455.8 L346.6 455.8 L347.8 443.8 L353.9 443.8 L355.1 432.6 L361.2 432.6 L362.4 428.3 L368.4 428.3 L369.7 426.1 L375.7 426.1 L376.9 424.8 L383.0 424.8 L384.2 414.6 L390.3 414.6 L391.5 407.8 L397.6 407.8 L398.8 399.0 L404.9 399.0 L406.1 392.9 L412.2 392.9 L413.4 386.3 L419.4 386.3 L420.6 380.2 L426.7 380.2 L427.9 377.3 L434.0 377.3 L435.2 370.1 L441.3 370.1 L442.5 361.3 L448.6 361.3 L449.8 358.0 L455.9 358.0 L457.1 351.5 L463.2 351.5 L464.4 345.7 L470.4 345.7 L471.6 343.7 L477.7 343.7 L478.9 341.4 L485.0 341.4 L486.2 338.8 L492.3 338.8 L493.5 333.9 L499.6 333.9 L500.8 331.6 L506.9 331.6 L508.1 328.1 L514.1 328.1 L515.4 325.2 L521.4 325.2 L522.6 323.2 L528.7 323.2 L529.9 320.7 L536.0 320.7 L537.2 313.4 L543.3 313.4 L544.5 293.6 L550.6 293.6 L551.8 289.5 L557.9 289.5 L559.1 279.5 L565.1 279.5 L566.3 268.4 L572.4 268.4 L573.6 262.5 L579.7 262.5 L580.9 256.0 L587.0 256.0 L588.2 249.4 L594.3 249.4 L595.5 245.9 L601.6 245.9 L602.8 243.9 L608.9 243.9 L610.1 238.7 L616.1 238.7 L617.3 236.1 L623.4 236.1 L624.6 232.8 L630.7 232.8 L631.9 231.8 L638.0 231.8 L639.2 229.5 L645.3 229.5 L646.5 230.1 L652.6 230.1 L653.8 227.7 L659.8 227.7 L661.0 223.8 L667.1 223.8 L668.3 226.2 L674.4 226.2 L675.6 225.8 L681.7 225.8 L682.9 224.8 L689.0 224.8 L690.2 222.9 L696.3 222.9 L697.5 218.6 L703.6 218.6 L704.8 218.8 L710.8 218.8 L712.0 217.2 L718.1 217.2 L719.3 214.3 L725.4 214.3 L726.6 213.5 L732.7 213.5 L733.9 213.1 L740.0 213.1 L741.2 210.2 L747.3 210.2 L748.5 212.9 L754.6 212.9 L755.8 210.9 L761.8 210.9 L763.0 214.6 L769.1 214.6 L770.3 215.4 L776.4 215.4 L777.6 220.9 L783.7 220.9 L784.9 220.1 L791.0 220.1 L792.2 224.0 L798.3 224.0 L799.5 225.0 L805.5 225.0 L806.8 228.1 L812.8 228.1 L814.0 225.2 L820.1 225.2 L821.3 222.3 L827.4 222.3 L828.6 223.8 L834.7 223.8 L835.9 224.9 L842.0 224.9 L843.2 225.6 L849.3 225.6 L850.5 225.4 L856.5 225.4 L857.7 223.2 L863.8 223.2 L865.0 221.9 L871.1 221.9 L872.3 221.3 L878.4 221.3 L879.6 221.3 L885.7 221.3 L886.9 220.5 L893.0 220.5 L894.2 220.9 L900.3 220.9 L901.5 219.1 L907.5 219.1 L908.7 219.7 L914.8 219.7 L916.0 220.3 L922.1 220.3 L923.3 219.3 L929.4 219.3 L930.6 218.9 L936.7 218.9 L937.9 218.8 L944.0 218.8 L945.2 217.8 L951.2 217.8 L952.5 212.9 L958.5 212.9 L959.7 212.9 L965.8 212.9 L967.0 211.5 L973.1 211.5 L974.3 211.3 L980.4 211.3 L981.6 210.5 L987.7 210.5 L988.9 208.2 L995.0 208.2 L996.2 206.8 L1002.2 206.8 L1003.4 202.0 L1009.5 202.0 L1010.7 203.3 L1016.8 203.3 L1018.0 209.2 L1024.1 209.2 L1025.3 210.5 L1031.4 210.5 L1032.6 213.1 L1038.7 213.1 L1039.9 215.6 L1046.0 215.6 L1047.2 215.4 L1053.2 215.4 L1054.4 215.4 L1060.5 215.4 L1061.7 210.7 L1067.8 210.7 L1069.0 210.9 L1075.1 210.9 L1076.3 209.6 L1082.4 209.6 L1083.6 209.2 L1089.7 209.2 L1090.9 210.2 L1097.0 210.2 L1098.1 209.1 L1104.2 209.1 L1105.4 206.8 L1111.5 206.8 L1112.7 204.5 L1118.8 204.5 L1120.0 201.5 L1126.1 201.5 L1127.3 197.9 L1133.4 197.9 L1134.6 195.3 L1140.7 195.3 L1141.9 196.0 L1147.9 196.0 L1149.1 190.1 L1155.2 190.1 L1156.4 194.0 L1162.5 194.0 L1163.7 193.7 L1169.8 193.7 L1171.0 192.1 L1177.1 192.1 L1178.3 184.3 L1184.4 184.3 L1185.6 170.8 L1191.7 170.8 L1192.9 166.3 L1198.9 166.3 L1200.1 164.6 L1206.2 164.6 L1207.4 172.9 L1213.5 172.9 L1214.7 177.1 L1220.8 177.1 L1222.0 173.7 L1228.1 173.7 L1229.3 174.4 L1235.4 174.4 L1236.6 178.4 L1242.7 178.4 L1243.8 176.9 L1249.9 176.9 L1251.1 175.5 L1257.2 175.5 L1258.4 171.3 L1264.5 171.3 L1265.7 173.2 L1271.8 173.2 L1273.0 168.2 L1279.1 168.2 L1280.3 159.1 L1286.4 159.1 L1287.6 158.8 L1293.6 158.8 L1294.8 157.5 L1300.9 157.5 L1302.1 153.3 L1308.2 153.3 L1309.4 149.4 L1315.5 149.4 L1316.7 146.7 L1322.8 146.7 L1324.0 146.7 L1331.0 146.7" stroke="#5275ff" stroke-width="1.5" fill="none" stroke-linejoin="round" opacity="0.95"/>
<path d="M5.6 261.5 L11.5 261.5 L12.7 244.5 L18.8 244.5 L20.0 236.1 L26.1 236.1 L27.3 239.6 L33.3 239.6 L34.5 228.9 L40.6 228.9 L41.8 241.0 L47.9 241.0 L49.1 233.6 L55.2 233.6 L56.4 229.7 L62.5 229.7 L63.7 231.3 L69.8 231.3 L71.0 233.2 L77.0 233.2 L78.2 235.5 L84.3 235.5 L85.5 239.1 L91.6 239.1 L92.8 248.8 L98.9 248.8 L100.1 245.5 L106.2 245.5 L107.4 252.3 L113.5 252.3 L114.7 254.1 L120.8 254.1 L122.0 254.1 L128.0 254.1 L129.2 251.8 L135.3 251.8 L136.5 284.4 L142.6 284.4 L143.8 274.2 L149.9 274.2 L151.1 273.0 L157.2 273.0 L158.4 281.6 L164.5 281.6 L165.7 285.4 L171.8 285.4 L173.0 283.6 L179.0 283.6 L180.2 294.3 L186.3 294.3 L187.5 289.8 L193.6 289.8 L194.8 289.8 L200.9 289.8 L202.1 283.6 L208.2 283.6 L209.4 281.6 L215.5 281.6 L216.7 291.4 L222.8 291.4 L224.0 292.4 L230.0 292.4 L231.2 312.7 L237.3 312.7 L238.5 325.6 L244.6 325.6 L245.8 327.9 L251.9 327.9 L253.1 341.6 L259.2 341.6 L260.4 390.2 L266.5 390.2 L267.7 391.2 L273.7 391.2 L274.9 395.5 L281.0 395.5 L282.2 381.8 L288.3 381.8 L289.5 398.8 L295.6 398.8 L296.8 417.3 L302.9 417.3 L304.1 408.8 L310.2 408.8 L311.4 420.5 L317.5 420.5 L318.7 469.5 L324.7 469.5 L325.9 477.5 L332.0 477.5 L333.2 491.1 L339.3 491.1 L340.5 510.7 L346.6 510.7 L347.8 523.8 L353.9 523.8 L355.1 536.6 L361.2 536.6 L362.4 547.2 L368.4 547.2 L369.7 551.5 L375.7 551.5 L376.9 547.6 L383.0 547.6 L384.2 562.8 L390.3 562.8 L391.5 572.0 L397.6 572.0 L398.8 519.8 L404.9 519.8 L406.1 509.7 L412.2 509.7 L413.4 515.0 L419.4 515.0 L420.6 522.4 L426.7 522.4 L427.9 524.3 L434.0 524.3 L435.2 518.9 L441.3 518.9 L442.5 515.9 L448.6 515.9 L449.8 504.6 L455.9 504.6 L457.1 506.2 L463.2 506.2 L464.4 515.0 L470.4 515.0 L471.6 529.2 L477.7 529.2 L478.9 528.2 L485.0 528.2 L486.2 552.1 L492.3 552.1 L493.5 547.4 L499.6 547.4 L500.8 548.6 L506.9 548.6 L508.1 538.6 L514.1 538.6 L515.4 538.0 L521.4 538.0 L522.6 537.6 L528.7 537.6 L529.9 539.0 L536.0 539.0 L537.2 520.4 L543.3 520.4 L544.5 501.3 L550.6 501.3 L551.8 487.1 L557.9 487.1 L559.1 493.0 L565.1 493.0 L566.3 475.8 L572.4 475.8 L573.6 489.8 L579.7 489.8 L580.9 477.7 L587.0 477.7 L588.2 481.2 L594.3 481.2 L595.5 484.6 L601.6 484.6 L602.8 463.3 L608.9 463.3 L610.1 469.1 L616.1 469.1 L617.3 489.0 L623.4 489.0 L624.6 490.6 L630.7 490.6 L631.9 490.6 L638.0 490.6 L639.2 492.4 L645.3 492.4 L646.5 497.5 L652.6 497.5 L653.8 492.4 L659.8 492.4 L661.0 493.9 L667.1 493.9 L668.3 487.7 L674.4 487.7 L675.6 492.6 L681.7 492.6 L682.9 496.9 L689.0 496.9 L690.2 509.6 L696.3 509.6 L697.5 521.9 L703.6 521.9 L704.8 532.4 L710.8 532.4 L712.0 531.0 L718.1 531.0 L719.3 512.9 L725.4 512.9 L726.6 512.5 L732.7 512.5 L733.9 513.1 L740.0 513.1 L741.2 509.6 L747.3 509.6 L748.5 505.7 L754.6 505.7 L755.8 504.1 L761.8 504.1 L763.0 493.9 L769.1 493.9 L770.3 488.5 L776.4 488.5 L777.6 478.9 L783.7 478.9 L784.9 471.9 L791.0 471.9 L792.2 478.7 L798.3 478.7 L799.5 475.6 L805.5 475.6 L806.8 462.7 L812.8 462.7 L814.0 479.9 L820.1 479.9 L821.3 481.2 L827.4 481.2 L828.6 491.6 L834.7 491.6 L835.9 491.6 L842.0 491.6 L843.2 480.0 L849.3 480.0 L850.5 466.8 L856.5 466.8 L857.7 477.5 L863.8 477.5 L865.0 504.5 L871.1 504.5 L872.3 523.4 L878.4 523.4 L879.6 525.2 L885.7 525.2 L886.9 539.2 L893.0 539.2 L894.2 534.3 L900.3 534.3 L901.5 524.6 L907.5 524.6 L908.7 513.6 L914.8 513.6 L916.0 515.2 L922.1 515.2 L923.3 531.8 L929.4 531.8 L930.6 531.8 L936.7 531.8 L937.9 533.2 L944.0 533.2 L945.2 520.5 L951.2 520.5 L952.5 524.0 L958.5 524.0 L959.7 537.7 L965.8 537.7 L967.0 519.7 L973.1 519.7 L974.3 535.1 L980.4 535.1 L981.6 537.1 L987.7 537.1 L988.9 537.9 L995.0 537.9 L996.2 533.8 L1002.2 533.8 L1003.4 524.0 L1009.5 524.0 L1010.7 539.2 L1016.8 539.2 L1018.0 532.4 L1024.1 532.4 L1025.3 518.7 L1031.4 518.7 L1032.6 518.7 L1038.7 518.7 L1039.9 516.6 L1046.0 516.6 L1047.2 518.7 L1053.2 518.7 L1054.4 532.8 L1060.5 532.8 L1061.7 536.3 L1067.8 536.3 L1069.0 550.4 L1075.1 550.4 L1076.3 523.0 L1082.4 523.0 L1083.6 524.6 L1089.7 524.6 L1090.9 524.6 L1097.0 524.6 L1098.1 526.5 L1104.2 526.5 L1105.4 550.1 L1111.5 550.1 L1112.7 572.4 L1118.8 572.4 L1120.0 575.6 L1126.1 575.6 L1127.3 576.4 L1133.4 576.4 L1134.6 578.2 L1140.7 578.2 L1141.9 561.8 L1147.9 561.8 L1149.1 568.1 L1155.2 568.1 L1156.4 548.6 L1162.5 548.6 L1163.7 538.3 L1169.8 538.3 L1171.0 546.3 L1177.1 546.3 L1178.3 537.5 L1184.4 537.5 L1185.6 528.6 L1191.7 528.6 L1192.9 533.8 L1198.9 533.8 L1200.1 556.8 L1206.2 556.8 L1207.4 559.6 L1213.5 559.6 L1214.7 558.4 L1220.8 558.4 L1222.0 556.8 L1228.1 556.8 L1229.3 554.8 L1235.4 554.8 L1236.6 557.6 L1242.7 557.6 L1243.8 562.6 L1249.9 562.6 L1251.1 554.0 L1257.2 554.0 L1258.4 554.4 L1264.5 554.4 L1265.7 555.5 L1271.8 555.5 L1273.0 583.9 L1279.1 583.9 L1280.3 586.9 L1286.4 586.9 L1287.6 592.3 L1293.6 592.3 L1294.8 595.9 L1300.9 595.9 L1302.1 574.5 L1308.2 574.5 L1309.4 567.8 L1315.5 567.8 L1316.7 577.5 L1322.8 577.5 L1324.0 600.3 L1331.0 600.3" stroke="#ffcb47" stroke-width="1.5" fill="none" stroke-linejoin="round" opacity="0.95"/>
<path d="M5.6 487.5 L11.5 487.5 L12.7 528.9 L18.8 528.9 L20.0 546.8 L26.1 546.8 L27.3 540.0 L33.3 540.0 L34.5 562.7 L40.6 562.7 L41.8 535.7 L47.9 535.7 L49.1 554.5 L55.2 554.5 L56.4 567.3 L62.5 567.3 L63.7 567.5 L69.8 567.5 L71.0 565.0 L77.0 565.0 L78.2 560.3 L84.3 560.3 L85.5 555.2 L91.6 555.2 L92.8 536.3 L98.9 536.3 L100.1 546.4 L106.2 546.4 L107.4 531.4 L113.5 531.4 L114.7 529.8 L120.8 529.8 L122.0 532.8 L128.0 532.8 L129.2 539.8 L135.3 539.8 L136.5 465.4 L142.6 465.4 L143.8 487.3 L149.9 487.3 L151.1 493.1 L157.2 493.1 L158.4 474.6 L164.5 474.6 L165.7 471.3 L171.8 471.3 L173.0 476.3 L179.0 476.3 L180.2 452.1 L186.3 452.1 L187.5 465.0 L193.6 465.0 L194.8 453.7 L200.9 453.7 L202.1 469.7 L208.2 469.7 L209.4 474.4 L215.5 474.4 L216.7 452.7 L222.8 452.7 L224.0 451.7 L230.0 451.7 L231.2 404.5 L237.3 404.5 L238.5 376.4 L244.6 376.4 L245.8 376.0 L251.9 376.0 L253.1 345.0 L259.2 345.0 L260.4 234.4 L266.5 234.4 L267.7 232.0 L273.7 232.0 L274.9 226.2 L281.0 226.2 L282.2 272.1 L288.3 272.1 L289.5 251.0 L295.6 251.0 L296.8 247.7 L302.9 247.7 L304.1 302.5 L310.2 302.5 L311.4 315.8 L317.5 315.8 L318.7 230.5 L324.7 230.5 L325.9 253.5 L332.0 253.5 L333.2 262.9 L339.3 262.9 L340.5 235.9 L346.6 235.9 L347.8 223.8 L353.9 223.8 L355.1 210.2 L361.2 210.2 L362.4 191.4 L368.4 191.4 L369.7 185.5 L375.7 185.5 L376.9 195.9 L383.0 195.9 L384.2 175.8 L390.3 175.8 L391.5 164.6 L397.6 164.6 L398.8 297.0 L404.9 297.0 L406.1 326.7 L412.2 326.7 L413.4 324.8 L419.4 324.8 L420.6 315.4 L426.7 315.4 L427.9 315.4 L434.0 315.4 L435.2 338.8 L441.3 338.8 L442.5 357.8 L448.6 357.8 L449.8 387.3 L455.9 387.3 L457.1 393.9 L463.2 393.9 L464.4 381.2 L470.4 381.2 L471.6 351.9 L477.7 351.9 L478.9 357.4 L485.0 357.4 L486.2 305.6 L492.3 305.6 L493.5 323.2 L499.6 323.2 L500.8 324.2 L506.9 324.2 L508.1 352.1 L514.1 352.1 L515.4 357.4 L521.4 357.4 L522.6 360.7 L528.7 360.7 L529.9 360.7 L536.0 360.7 L537.2 413.3 L543.3 413.3 L544.5 485.5 L550.6 485.5 L551.8 523.2 L557.9 523.2 L559.1 523.2 L565.1 523.2 L566.3 578.9 L572.4 578.9 L573.6 555.5 L579.7 555.5 L580.9 592.0 L587.0 592.0 L588.2 592.0 L594.3 592.0 L595.5 589.6 L601.6 589.6 L602.8 642.0 L608.9 642.0 L610.1 634.8 L616.1 634.8 L617.3 593.9 L623.4 593.9 L624.6 594.5 L630.7 594.5 L631.9 596.1 L638.0 596.1 L639.2 594.9 L645.3 594.9 L646.5 582.4 L652.6 582.4 L653.8 597.9 L659.8 597.9 L661.0 600.0 L667.1 600.0 L668.3 609.8 L674.4 609.8 L675.6 599.2 L681.7 599.2 L682.9 590.2 L689.0 590.2 L690.2 565.2 L696.3 565.2 L697.5 544.3 L703.6 544.3 L704.8 519.3 L710.8 519.3 L712.0 523.8 L718.1 523.8 L719.3 569.7 L725.4 569.7 L726.6 572.0 L732.7 572.0 L733.9 570.5 L740.0 570.5 L741.2 582.4 L747.3 582.4 L748.5 588.7 L754.6 588.7 L755.8 594.5 L761.8 594.5 L763.0 612.3 L769.1 612.3 L770.3 623.5 L776.4 623.5 L777.6 637.7 L783.7 637.7 L784.9 655.1 L791.0 655.1 L792.2 633.6 L798.3 633.6 L799.5 639.1 L805.5 639.1 L806.8 666.1 L812.8 666.1 L814.0 628.9 L820.1 628.9 L821.3 629.7 L827.4 629.7 L828.6 604.4 L834.7 604.4 L835.9 602.0 L842.0 602.0 L843.2 628.9 L849.3 628.9 L850.5 659.6 L856.5 659.6 L857.7 638.5 L863.8 638.5 L865.0 579.0 L871.1 579.0 L872.3 536.1 L878.4 536.1 L879.6 532.2 L885.7 532.2 L886.9 501.1 L893.0 501.1 L894.2 510.7 L900.3 510.7 L901.5 535.7 L907.5 535.7 L908.7 561.5 L914.8 561.5 L916.0 555.6 L922.1 555.6 L923.3 519.3 L929.4 519.3 L930.6 519.5 L936.7 519.5 L937.9 518.1 L944.0 518.1 L945.2 547.0 L951.2 547.0 L952.5 546.0 L958.5 546.0 L959.7 514.2 L965.8 514.2 L967.0 558.4 L973.1 558.4 L974.3 522.2 L980.4 522.2 L981.6 518.5 L987.7 518.5 L988.9 520.1 L995.0 520.1 L996.2 533.8 L1002.2 533.8 L1003.4 562.1 L1009.5 562.1 L1010.7 524.0 L1016.8 524.0 L1018.0 531.8 L1024.1 531.8 L1025.3 562.1 L1031.4 562.1 L1032.6 557.8 L1038.7 557.8 L1039.9 559.7 L1046.0 559.7 L1047.2 554.8 L1053.2 554.8 L1054.4 522.6 L1060.5 522.6 L1061.7 520.3 L1067.8 520.3 L1069.0 488.8 L1075.1 488.8 L1076.3 554.3 L1082.4 554.3 L1083.6 550.0 L1089.7 550.0 L1090.9 547.4 L1097.0 547.4 L1098.1 545.2 L1104.2 545.2 L1105.4 494.9 L1111.5 494.9 L1112.7 447.0 L1118.8 447.0 L1120.0 443.6 L1126.1 443.6 L1127.3 447.2 L1133.4 447.2 L1134.6 446.4 L1140.7 446.4 L1141.9 483.2 L1147.9 483.2 L1149.1 477.3 L1155.2 477.3 L1156.4 516.1 L1162.5 516.1 L1163.7 540.4 L1169.8 540.4 L1171.0 524.2 L1177.1 524.2 L1178.3 554.8 L1184.4 554.8 L1185.6 595.9 L1191.7 595.9 L1192.9 589.7 L1198.9 589.7 L1200.1 538.8 L1206.2 538.8 L1207.4 520.8 L1213.5 520.8 L1214.7 518.0 L1220.8 518.0 L1222.0 526.3 L1228.1 526.3 L1229.3 529.9 L1235.4 529.9 L1236.6 517.4 L1242.7 517.4 L1243.8 507.8 L1249.9 507.8 L1251.1 529.4 L1257.2 529.4 L1258.4 534.4 L1264.5 534.4 L1265.7 530.2 L1271.8 530.2 L1273.0 472.3 L1279.1 472.3 L1280.3 478.1 L1286.4 478.1 L1287.6 465.2 L1293.6 465.2 L1294.8 459.4 L1300.9 459.4 L1302.1 515.0 L1308.2 515.0 L1309.4 536.0 L1315.5 536.0 L1316.7 516.1 L1322.8 516.1 L1324.0 464.4 L1331.0 464.4" stroke="#ff5b5b" stroke-width="1.5" fill="none" stroke-linejoin="round" opacity="0.93"/>
<path d="M1332 735.2H1353M1332 737.6H1353" stroke="#2a2d45" stroke-width="0.8"/>
<path d="M1353.6 87V738.5" stroke="#1c5a30" stroke-width="1.3"/>
<path d="M1396.5 87V738.5" stroke="#4563d2" stroke-width="1"/>
<path d="M1439 87V738.5" stroke="#c9a040" stroke-width="1.25"/>
<path d="M1481.6 87V738.5" stroke="#c94c50" stroke-width="1"/>
<text x="1358.8" y="90.1" fill="#747995" font-size="9" text-anchor="start" >29K</text>
<text x="1401.9" y="90.1" fill="#747995" font-size="9" text-anchor="start" >17.80%</text>
<text x="1444.1" y="90.1" fill="#747995" font-size="9" text-anchor="start" >69.13%</text>
<text x="1487.2" y="90.1" fill="#747995" font-size="9" text-anchor="start" >16.52%</text>
<text x="1358.8" y="171.5" fill="#747995" font-size="9" text-anchor="start" >25.3K</text>
<text x="1401.9" y="171.5" fill="#747995" font-size="9" text-anchor="start" >17.56%</text>
<text x="1444.1" y="171.5" fill="#747995" font-size="9" text-anchor="start" >68.73%</text>
<text x="1487.2" y="171.5" fill="#747995" font-size="9" text-anchor="start" >16.35%</text>
<text x="1358.8" y="252.8" fill="#747995" font-size="9" text-anchor="start" >21.7K</text>
<text x="1401.9" y="252.8" fill="#747995" font-size="9" text-anchor="start" >17.32%</text>
<text x="1444.1" y="252.8" fill="#747995" font-size="9" text-anchor="start" >68.34%</text>
<text x="1487.2" y="252.8" fill="#747995" font-size="9" text-anchor="start" >16.17%</text>
<text x="1358.8" y="334.1" fill="#747995" font-size="9" text-anchor="start" >18.1K</text>
<text x="1401.9" y="334.1" fill="#747995" font-size="9" text-anchor="start" >17.08%</text>
<text x="1444.1" y="334.1" fill="#747995" font-size="9" text-anchor="start" >67.95%</text>
<text x="1487.2" y="334.1" fill="#747995" font-size="9" text-anchor="start" >16.00%</text>
<text x="1358.8" y="415.5" fill="#747995" font-size="9" text-anchor="start" >14.5K</text>
<text x="1401.9" y="415.5" fill="#747995" font-size="9" text-anchor="start" >16.84%</text>
<text x="1444.1" y="415.5" fill="#747995" font-size="9" text-anchor="start" >67.56%</text>
<text x="1487.2" y="415.5" fill="#747995" font-size="9" text-anchor="start" >15.83%</text>
<text x="1358.8" y="496.8" fill="#747995" font-size="9" text-anchor="start" >10.8K</text>
<text x="1401.9" y="496.8" fill="#747995" font-size="9" text-anchor="start" >16.60%</text>
<text x="1444.1" y="496.8" fill="#747995" font-size="9" text-anchor="start" >67.16%</text>
<text x="1487.2" y="496.8" fill="#747995" font-size="9" text-anchor="start" >15.66%</text>
<text x="1358.8" y="578.2" fill="#747995" font-size="9" text-anchor="start" >7250</text>
<text x="1401.9" y="578.2" fill="#747995" font-size="9" text-anchor="start" >16.36%</text>
<text x="1444.1" y="578.2" fill="#747995" font-size="9" text-anchor="start" >66.77%</text>
<text x="1487.2" y="578.2" fill="#747995" font-size="9" text-anchor="start" >15.49%</text>
<text x="1358.8" y="659.5" fill="#747995" font-size="9" text-anchor="start" >3625</text>
<text x="1401.9" y="659.5" fill="#747995" font-size="9" text-anchor="start" >16.12%</text>
<text x="1444.1" y="659.5" fill="#747995" font-size="9" text-anchor="start" >66.38%</text>
<text x="1487.2" y="659.5" fill="#747995" font-size="9" text-anchor="start" >15.32%</text>
<rect x="1356.2" y="730.0" width="20.0" height="11.2" fill="#2f3249"/><text x="1358.9" y="738.8" fill="#9a9ebb" font-size="9" text-anchor="start" >113</text>
<rect x="1399.1" y="730.0" width="35.7" height="11.2" fill="#2f3249"/><text x="1401.8" y="738.8" fill="#9a9ebb" font-size="9" text-anchor="start" >15.89%</text>
<rect x="1441.6" y="730.0" width="35.7" height="11.2" fill="#2f3249"/><text x="1444.3" y="738.8" fill="#9a9ebb" font-size="9" text-anchor="start" >66.00%</text>
<rect x="1484.3" y="730.0" width="35.7" height="11.2" fill="#2f3249"/><text x="1487.0" y="738.8" fill="#9a9ebb" font-size="9" text-anchor="start" >15.15%</text>
<rect x="1356.3" y="102.4" width="21.2" height="11.0" fill="#176a2f"/><text x="1359.0" y="111.0" fill="#ffffff" font-size="9" text-anchor="start" >28K</text>
<rect x="1398.8" y="141.0" width="36.2" height="11.2" fill="#5275ff"/><text x="1401.5" y="149.8" fill="#ffffff" font-size="9" text-anchor="start" >17.62%</text>
<rect x="1484.4" y="458.2" width="35.7" height="11.2" fill="#f55a5a"/><text x="1487.1" y="467.0" fill="#ffffff" font-size="9" text-anchor="start" >15.72%</text>
<rect x="1442.0" y="594.2" width="35.8" height="11.2" fill="#ffcb47"/><text x="1444.7" y="603.0" fill="#3a3420" font-size="9" text-anchor="start" >66.65%</text>
<text x="9.0" y="750.2" fill="#7d829f" font-size="9" text-anchor="start" >29 Sep 22</text>
<text x="115.7" y="750.2" fill="#7d829f" font-size="9" text-anchor="middle" >14 Oct 22</text>
<text x="226.3" y="750.2" fill="#7d829f" font-size="9" text-anchor="middle" >30 Oct 22</text>
<text x="336.9" y="750.2" fill="#7d829f" font-size="9" text-anchor="middle" >14 Nov 22</text>
<text x="447.5" y="750.2" fill="#7d829f" font-size="9" text-anchor="middle" >29 Nov 22</text>
<text x="558.0" y="750.2" fill="#7d829f" font-size="9" text-anchor="middle" >14 Dec 22</text>
<text x="668.6" y="750.2" fill="#7d829f" font-size="9" text-anchor="middle" >29 Dec 22</text>
<text x="779.2" y="750.2" fill="#7d829f" font-size="9" text-anchor="middle" >13 Jan 23</text>
<text x="889.8" y="750.2" fill="#7d829f" font-size="9" text-anchor="middle" >29 Jan 23</text>
<text x="1000.4" y="750.2" fill="#7d829f" font-size="9" text-anchor="middle" >13 Feb 23</text>
<text x="1110.9" y="750.2" fill="#7d829f" font-size="9" text-anchor="middle" >28 Feb 23</text>
<text x="1221.5" y="750.2" fill="#7d829f" font-size="9" text-anchor="middle" >15 Mar 23</text>
<text x="1329.4" y="750.2" fill="#7d829f" font-size="9" text-anchor="start" >30 Mar 23</text>
<rect x="1308.2" y="742.2" width="46" height="11" fill="#2f3249"/>
<text x="1310.7" y="751.3" fill="#a9adc8" font-size="9" text-anchor="start" >30 Mar 23</text>
</svg>
<div class="mb" style="left:5.5px;width:116.8px;background:#1a222d;border-color:#163f22;"><b style="background:#166a2e"></b></div>
<div class="mb" style="left:128.5px;width:168px;"><b style="background:#5275ff"></b></div>
<div class="mb" style="left:303px;width:195.5px;"><b style="background:#ffcb47"></b></div>
<div class="mb" style="left:506px;width:218.5px;"><b style="background:#ff5b5b"></b></div>
<div class="tip"><div class="h"></div></div>
<svg class="chart" width="1536" height="811" viewBox="0 0 1536 811"><circle cx="120.3" cy="26.5" r="6.6" fill="#f7931a"/><text x="120.3" y="29.9" font-size="9.5" font-weight="700" fill="#fff" text-anchor="middle" transform="rotate(14 120.3 26.5)" font-family="Liberation Sans">B</text><path d="M120.1 21.2v1.6M121.9 21.6v1.4M118.7 30.4v1.6M120.5 30v1.5" stroke="#fff" stroke-width="0.8"/><circle cx="294.3" cy="26.5" r="6.6" fill="#f7931a"/><text x="294.3" y="29.9" font-size="9.5" font-weight="700" fill="#fff" text-anchor="middle" transform="rotate(14 294.3 26.5)" font-family="Liberation Sans">B</text><path d="M294.1 21.2v1.6M295.9 21.6v1.4M292.7 30.4v1.6M294.5 30v1.5" stroke="#fff" stroke-width="0.8"/><circle cx="497.3" cy="26.5" r="6.6" fill="#f7931a"/><text x="497.3" y="29.9" font-size="9.5" font-weight="700" fill="#fff" text-anchor="middle" transform="rotate(14 497.3 26.5)" font-family="Liberation Sans">B</text><path d="M497.1 21.2v1.6M498.9 21.6v1.4M495.7 30.4v1.6M497.5 30v1.5" stroke="#fff" stroke-width="0.8"/><circle cx="722.3" cy="26.5" r="6.6" fill="#f7931a"/><text x="722.3" y="29.9" font-size="9.5" font-weight="700" fill="#fff" text-anchor="middle" transform="rotate(14 722.3 26.5)" font-family="Liberation Sans">B</text><path d="M722.1 21.2v1.6M723.9 21.6v1.4M720.7 30.4v1.6M722.5 30v1.5" stroke="#fff" stroke-width="0.8"/><circle cx="131.7" cy="27.4" r="6.5" fill="#4b4f6e"/><rect x="128.9" y="26.3" width="5.6" height="4.3" rx="0.7" fill="#fff"/><path d="M130.2 26.5v-1.2a1.5 1.5 0 0 1 3 0v1.2" stroke="#fff" stroke-width="1" fill="none"/><circle cx="305.7" cy="27.4" r="6.5" fill="#4b4f6e"/><rect x="302.9" y="26.3" width="5.6" height="4.3" rx="0.7" fill="#fff"/><path d="M304.2 26.5v-1.2a1.5 1.5 0 0 1 3 0v1.2" stroke="#fff" stroke-width="1" fill="none"/><circle cx="508.7" cy="27.4" r="6.5" fill="#4b4f6e"/><rect x="505.9" y="26.3" width="5.6" height="4.3" rx="0.7" fill="#fff"/><path d="M507.2 26.5v-1.2a1.5 1.5 0 0 1 3 0v1.2" stroke="#fff" stroke-width="1" fill="none"/><path d="M60.0 66.5l3 3l3 -3" stroke="#8b90ad" stroke-width="1.2" fill="none"/><path d="M95.0 66.5l3 3l3 -3" stroke="#8b90ad" stroke-width="1.2" fill="none"/><path d="M223.0 66.5l3 3l3 -3" stroke="#8b90ad" stroke-width="1.2" fill="none"/><path d="M297.0 66.5l3 3l3 -3" stroke="#8b90ad" stroke-width="1.2" fill="none"/><path d="M585.0 66.5l3 3l3 -3" stroke="#8b90ad" stroke-width="1.2" fill="none"/><rect x="80" y="63" width="9.5" height="9.5" rx="1.8" fill="#17672d"/><rect x="116.6" y="63.2" width="13" height="9.6" rx="1" fill="none" stroke="#7e83a0" stroke-width="1.2"/><path d="M119.8 63.5v6M123.2 63.5v3M126.5 63.5v4.6" stroke="#7e83a0" stroke-width="1"/><rect x="370" y="61.2" width="13.6" height="13.6" rx="2.5" fill="#14c393"/><path d="M373.4 68l2.4 2.5l4.6 -4.8" stroke="#fff" stroke-width="1.5" fill="none"/><rect x="440" y="61.5" width="13" height="13" rx="2.5" fill="none" stroke="#1f2237" stroke-width="1"/><path d="M604 68h6M607 65v6" stroke="#8b90ad" stroke-width="1"/><circle cx="1510.5" cy="38.5" r="3.6" fill="#14c393"/><circle cx="1510.5" cy="38.5" r="5" fill="none" stroke="#14c393" stroke-opacity="0.18" stroke-width="1.6"/><text x="13.75" y="43.20" textLength="57.50" lengthAdjust="spacingAndGlyphs" font-size="12" fill="#e2e4f0" font-weight="400" font-family="Liberation Sans">Price (BTC)</text><circle cx="87.7" cy="34.2" r="0.85" fill="#8b90ad"/><circle cx="87.7" cy="38.4" r="0.85" fill="#8b90ad"/><circle cx="87.7" cy="42.6" r="0.85" fill="#8b90ad"/><path d="M104.6 35l6 6M110.6 35l-6 6" stroke="#9da1bd" stroke-width="1.1"/><text x="137.00" y="43.20" textLength="108.00" lengthAdjust="spacingAndGlyphs" font-size="12" fill="#e2e4f0" font-weight="400" font-family="Liberation Sans">[0 - 10) coins % (BTC)</text><circle cx="262.0" cy="34.2" r="0.85" fill="#8b90ad"/><circle cx="262.0" cy="38.4" r="0.85" fill="#8b90ad"/><circle cx="262.0" cy="42.6" r="0.85" fill="#8b90ad"/><path d="M279.0 35l6 6M285.0 35l-6 6" stroke="#9da1bd" stroke-width="1.1"/><text x="311.00" y="43.20" textLength="137.00" lengthAdjust="spacingAndGlyphs" font-size="12" fill="#e2e4f0" font-weight="400" font-family="Liberation Sans">[10 - 10,000) coins % (BTC)</text><circle cx="465.0" cy="34.2" r="0.85" fill="#8b90ad"/><circle cx="465.0" cy="38.4" r="0.85" fill="#8b90ad"/><circle cx="465.0" cy="42.6" r="0.85" fill="#8b90ad"/><path d="M482.0 35l6 6M488.0 35l-6 6" stroke="#9da1bd" stroke-width="1.1"/><text x="514.00" y="43.20" textLength="159.50" lengthAdjust="spacingAndGlyphs" font-size="12" fill="#e2e4f0" font-weight="400" font-family="Liberation Sans">[10,000 - infinity) coins % (BTC)</text><circle cx="690.0" cy="34.2" r="0.85" fill="#8b90ad"/><circle cx="690.0" cy="38.4" r="0.85" fill="#8b90ad"/><circle cx="690.0" cy="42.6" r="0.85" fill="#8b90ad"/><path d="M707.0 35l6 6M713.0 35l-6 6" stroke="#9da1bd" stroke-width="1.1"/><text x="5.00" y="72.30" textLength="47.50" lengthAdjust="spacingAndGlyphs" font-size="11" fill="#8489a8" font-weight="400" font-family="Liberation Sans">Style: Bars</text><text x="136.25" y="72.30" textLength="80.00" lengthAdjust="spacingAndGlyphs" font-size="11" fill="#8489a8" font-weight="400" font-family="Liberation Sans">Interval: Auto (4h)</text><text x="243.75" y="72.30" textLength="46.25" lengthAdjust="spacingAndGlyphs" font-size="11" fill="#8489a8" font-weight="400" font-family="Liberation Sans">Indicators:</text><text x="317.50" y="72.30" textLength="45.00" lengthAdjust="spacingAndGlyphs" font-size="11" fill="#8489a8" font-weight="400" font-family="Liberation Sans">Show axis</text><text x="397.75" y="72.30" textLength="33.75" lengthAdjust="spacingAndGlyphs" font-size="11" fill="#8489a8" font-weight="400" font-family="Liberation Sans">Pin axis</text><text x="466.50" y="72.30" textLength="110.50" lengthAdjust="spacingAndGlyphs" font-size="11" fill="#8489a8" font-weight="400" font-family="Liberation Sans">Axis max/min: Auto/Auto</text><text x="618.25" y="72.30" textLength="76.50" lengthAdjust="spacingAndGlyphs" font-size="11" fill="#8489a8" font-weight="400" font-family="Liberation Sans">Combine metrics</text><text x="15.50" y="102.00" textLength="102.00" lengthAdjust="spacingAndGlyphs" font-size="11" fill="#8d92b0" font-weight="400" font-family="Liberation Sans">13:00, March 30, 2023</text><rect x="15" y="125.3" width="6.2" height="1.8" rx="0.9" fill="#1d6b33"/><text stroke="#e6e8f2" stroke-width="0.32" x="28.75" y="129.95" textLength="51.75" lengthAdjust="spacingAndGlyphs" font-size="10.5" fill="#e6e8f2" font-weight="400" font-family="Liberation Sans">$28,036.71</text><text x="84.25" y="129.95" textLength="53.25" lengthAdjust="spacingAndGlyphs" font-size="10.5" fill="#858aa6" font-weight="400" font-family="Liberation Sans">Price (BTC)</text><rect x="15" y="139.8" width="6.2" height="1.8" rx="0.9" fill="#5275ff"/><text stroke="#e6e8f2" stroke-width="0.32" x="28.75" y="144.45" textLength="35.00" lengthAdjust="spacingAndGlyphs" font-size="10.5" fill="#e6e8f2" font-weight="400" font-family="Liberation Sans">17.62%</text><text x="66.75" y="144.45" textLength="102.75" lengthAdjust="spacingAndGlyphs" font-size="10.5" fill="#858aa6" font-weight="400" font-family="Liberation Sans">[0 - 10) coins % (BTC)</text><rect x="15" y="154.1" width="6.2" height="1.8" rx="0.9" fill="#ffcb47"/><text stroke="#e6e8f2" stroke-width="0.32" x="28.75" y="158.70" textLength="35.00" lengthAdjust="spacingAndGlyphs" font-size="10.5" fill="#e6e8f2" font-weight="400" font-family="Liberation Sans">66.65%</text><text x="66.75" y="158.70" textLength="129.00" lengthAdjust="spacingAndGlyphs" font-size="10.5" fill="#858aa6" font-weight="400" font-family="Liberation Sans">[10 - 10,000) coins % (BTC)</text><rect x="15" y="168.6" width="6.2" height="1.8" rx="0.9" fill="#ff5b5b"/><text stroke="#e6e8f2" stroke-width="0.32" x="28.75" y="173.20" textLength="35.00" lengthAdjust="spacingAndGlyphs" font-size="10.5" fill="#e6e8f2" font-weight="400" font-family="Liberation Sans">15.72%</text><text x="66.75" y="173.20" textLength="146.25" lengthAdjust="spacingAndGlyphs" font-size="10.5" fill="#858aa6" font-weight="400" font-family="Liberation Sans">[10,000 - infinity) coins % (BTC)</text></svg>
<svg class="chart" width="1536" height="811" viewBox="0 0 1536 811">
<rect x="5.5" y="764.5" width="1517" height="33" rx="3" fill="none" stroke="#202338" stroke-width="1"/>
<path d="M940.0 797.6V796.6M941.5 797.6V797.0M943.1 797.6V796.6M944.6 797.6V796.9M946.2 797.6V796.9M947.7 797.6V795.9M949.3 797.6V795.8M950.8 797.6V797.0M952.4 797.6V796.0M953.9 797.6V795.9M955.5 797.6V797.0M957.0 797.6V796.1M958.6 797.6V796.6M960.1 797.6V796.0M961.7 797.6V796.2M963.2 797.6V795.4M964.8 797.6V796.2M966.3 797.6V796.5M967.9 797.6V795.9M969.4 797.6V796.3M971.0 797.6V796.1M972.5 797.6V795.1M974.1 797.6V796.2M975.6 797.6V796.0M977.2 797.6V795.5M978.7 797.6V795.0M980.3 797.6V796.3M981.8 797.6V795.7M983.4 797.6V796.1M984.9 797.6V796.3M986.5 797.6V796.0M988.0 797.6V796.3M989.6 797.6V795.5M991.1 797.6V796.1M992.7 797.6V795.5M994.2 797.6V796.3M995.8 797.6V796.2M997.3 797.6V794.9M998.9 797.6V794.9M1000.4 797.6V795.1M1002.0 797.6V796.3M1003.5 797.6V795.5M1005.1 797.6V795.9M1006.6 797.6V795.4M1008.2 797.6V795.8M1009.7 797.6V795.6M1011.3 797.6V795.6M1012.8 797.6V796.0M1014.4 797.6V796.1M1015.9 797.6V796.6M1017.5 797.6V796.3M1019.0 797.6V796.7M1020.6 797.6V796.5M1022.1 797.6V796.7M1023.7 797.6V796.2M1025.2 797.6V795.4M1026.8 797.6V796.4M1028.3 797.6V796.6M1029.9 797.6V796.5M1031.4 797.6V795.9M1033.0 797.6V796.1M1034.5 797.6V795.3M1036.1 797.6V796.3M1037.6 797.6V795.9M1039.2 797.6V795.4M1040.7 797.6V795.0M1042.3 797.6V796.3M1043.8 797.6V796.5M1045.4 797.6V795.0M1046.9 797.6V796.1M1048.5 797.6V795.5M1050.0 797.6V795.0M1051.6 797.6V795.2M1053.1 797.6V796.0M1054.7 797.6V796.1M1056.2 797.6V794.8M1057.8 797.6V795.7M1059.3 797.6V794.8M1060.9 797.6V795.8M1062.4 797.6V795.2M1064.0 797.6V796.0M1065.5 797.6V796.2M1067.1 797.6V795.4M1068.6 797.6V796.2M1070.2 797.6V795.1M1071.7 797.6V794.7M1073.3 797.6V795.5M1074.8 797.6V794.5M1076.4 797.6V794.8M1077.9 797.6V795.1M1079.5 797.6V795.4M1081.0 797.6V794.7M1082.6 797.6V794.5M1084.1 797.6V795.8M1085.7 797.6V794.9M1087.2 797.6V795.9M1088.8 797.6V795.8M1090.3 797.6V794.9M1091.9 797.6V795.0M1093.4 797.6V795.1M1095.0 797.6V795.3M1096.5 797.6V795.2M1098.1 797.6V795.1M1099.6 797.6V795.2M1101.2 797.6V795.7M1102.7 797.6V795.0M1104.3 797.6V794.9M1105.8 797.6V795.4M1107.4 797.6V794.7M1108.9 797.6V794.8M1110.5 797.6V795.9M1112.0 797.6V795.2M1113.6 797.6V795.2M1115.1 797.6V794.4M1116.7 797.6V795.0M1118.2 797.6V795.3M1119.8 797.6V794.4M1121.3 797.6V795.4M1122.9 797.6V795.4M1124.4 797.6V794.5M1126.0 797.6V795.5M1127.5 797.6V795.2M1129.1 797.6V795.6M1130.6 797.6V795.1M1132.2 797.6V795.7M1133.7 797.6V795.7M1135.3 797.6V794.6M1136.8 797.6V794.7M1138.4 797.6V795.7M1139.9 797.6V796.1M1141.5 797.6V795.0M1143.0 797.6V795.4M1144.6 797.6V795.6M1146.1 797.6V795.2M1147.7 797.6V795.3M1149.2 797.6V795.2M1150.8 797.6V795.3M1152.3 797.6V795.6M1153.9 797.6V795.1M1155.4 797.6V795.2M1157.0 797.6V795.9M1158.5 797.6V794.7M1160.1 797.6V795.5M1161.6 797.6V795.8M1163.2 797.6V795.1M1164.7 797.6V794.9M1166.3 797.6V795.8M1167.8 797.6V794.9M1169.4 797.6V794.8M1170.9 797.6V795.2M1172.5 797.6V795.6M1174.0 797.6V794.6M1175.6 797.6V795.0M1177.1 797.6V795.0M1178.7 797.6V795.7M1180.2 797.6V795.1M1181.8 797.6V795.8M1183.3 797.6V794.6M1184.9 797.6V794.9M1186.4 797.6V795.4M1188.0 797.6V795.7M1189.5 797.6V795.0M1191.1 797.6V794.6M1192.6 797.6V794.5M1194.2 797.6V795.1M1195.7 797.6V794.5M1197.3 797.6V795.5M1198.8 797.6V795.6M1200.4 797.6V794.5M1201.9 797.6V794.6M1203.5 797.6V795.4M1205.0 797.6V795.1M1206.6 797.6V795.4M1208.1 797.6V794.6M1209.7 797.6V794.2M1211.2 797.6V794.5M1212.8 797.6V795.2M1214.3 797.6V794.4M1215.9 797.6V794.5M1217.4 797.6V794.5M1219.0 797.6V794.5M1220.5 797.6V794.5M1222.1 797.6V795.3M1223.6 797.6V794.0M1225.2 797.6V793.7M1226.7 797.6V795.2M1228.3 797.6V795.1M1229.8 797.6V795.2M1231.4 797.6V794.3M1232.9 797.6V795.1M1234.5 797.6V795.0M1236.0 797.6V793.9M1237.6 797.6V794.7M1239.1 797.6V794.8M1240.7 797.6V794.5M1242.2 797.6V794.2M1243.8 797.6V793.8M1245.3 797.6V793.9M1246.9 797.6V793.7M1248.4 797.6V793.4M1250.0 797.6V794.2M1251.5 797.6V793.7M1253.1 797.6V794.5M1254.6 797.6V792.9M1256.2 797.6V793.8M1257.7 797.6V793.1M1259.3 797.6V793.1M1260.8 797.6V792.7M1262.4 797.6V792.3M1263.9 797.6V791.4M1265.5 797.6V790.1M1267.0 797.6V790.9M1268.6 797.6V789.5M1270.1 797.6V789.3M1271.7 797.6V789.5M1273.2 797.6V788.7M1274.8 797.6V787.3M1276.3 797.6V786.9M1277.9 797.6V785.1M1279.4 797.6V783.4M1281.0 797.6V782.0M1282.5 797.6V781.7M1284.1 797.6V779.9M1285.6 797.6V779.4M1287.2 797.6V777.6M1288.7 797.6V776.3M1290.3 797.6V775.9M1291.8 797.6V775.3M1293.4 797.6V773.2M1294.9 797.6V772.6M1296.5 797.6V771.6M1298.0 797.6V771.1M1299.6 797.6V770.8M1301.1 797.6V769.2M1302.7 797.6V769.9M1304.2 797.6V770.0M1305.8 797.6V768.4M1307.3 797.6V768.5M1308.9 797.6V768.2M1310.4 797.6V768.4M1312.0 797.6V767.9M1313.5 797.6V768.4M1315.1 797.6V769.5M1316.6 797.6V768.9M1318.2 797.6V769.6M1319.7 797.6V770.3M1321.3 797.6V772.5M1322.8 797.6V774.9M1324.4 797.6V778.8M1325.9 797.6V779.8M1327.5 797.6V778.9M1329.0 797.6V779.9M1330.6 797.6V779.9M1332.1 797.6V780.2M1333.7 797.6V780.3M1335.2 797.6V780.7M1336.8 797.6V780.6M1338.3 797.6V780.3M1339.9 797.6V780.0M1341.4 797.6V779.9M1343.0 797.6V778.5M1344.5 797.6V778.0M1346.1 797.6V777.2M1347.6 797.6V775.6M1349.2 797.6V774.8M1350.7 797.6V774.6M1352.3 797.6V774.6M1353.8 797.6V774.7M1355.4 797.6V774.7M1356.9 797.6V775.0M1358.5 797.6V776.6M1360.0 797.6V777.2M1361.6 797.6V777.9M1363.1 797.6V775.1M1364.7 797.6V772.7M1366.2 797.6V770.4M1367.8 797.6V767.2M1369.3 797.6V767.2M1370.9 797.6V766.5M1372.4 797.6V765.9M1374.0 797.6V766.1M1375.5 797.6V767.4M1377.1 797.6V767.4M1378.6 797.6V769.0M1380.2 797.6V770.0M1381.7 797.6V771.6M1383.3 797.6V772.5M1384.8 797.6V772.4M1386.4 797.6V774.0M1387.9 797.6V774.6M1389.5 797.6V774.7M1391.0 797.6V776.0M1392.6 797.6V776.4M1394.1 797.6V778.4M1395.7 797.6V779.1M1397.2 797.6V779.5M1398.8 797.6V779.2M1400.3 797.6V778.8M1401.9 797.6V778.7M1403.4 797.6V778.3M1405.0 797.6V777.4M1406.5 797.6V777.9M1408.1 797.6V776.6M1409.6 797.6V776.4M1411.2 797.6V777.1M1412.7 797.6V775.5M1414.3 797.6V775.3M1415.8 797.6V775.5M1417.4 797.6V777.3M1418.9 797.6V776.8M1420.5 797.6V777.1M1422.0 797.6V779.5M1423.6 797.6V779.7M1425.1 797.6V782.3M1426.7 797.6V783.4M1428.2 797.6V784.2M1429.8 797.6V784.5M1431.3 797.6V784.1M1432.9 797.6V784.6M1434.4 797.6V783.5M1436.0 797.6V784.8M1437.5 797.6V785.6M1439.1 797.6V787.8M1440.6 797.6V787.6M1442.2 797.6V788.5M1443.7 797.6V788.7M1445.3 797.6V787.2M1446.8 797.6V787.6M1448.4 797.6V787.8M1449.9 797.6V788.2M1451.5 797.6V787.1M1453.0 797.6V787.0M1454.6 797.6V787.2M1456.1 797.6V787.9M1457.7 797.6V788.2M1459.2 797.6V787.7M1460.8 797.6V787.7M1462.3 797.6V787.8M1463.9 797.6V787.9M1465.4 797.6V788.0M1467.0 797.6V787.6M1468.5 797.6V788.3M1470.1 797.6V789.1" stroke="#2e3149" stroke-width="1.1" fill="none"/>
<path d="M6.8 765.2 L22.0 765.2 L23.7 767.9 L81.0 769.2 L118.5 771.2 L127.0 776.0 L138.8 777.0 L149.0 779.7 L162.5 782.8 L184.5 782.0 L196.3 787.2 L216.7 789.5 L230.0 790.5 L243.7 787.8 L257.0 789.9 L281.0 791.6 L294.5 793.9 L314.8 792.9 L318.0 786.0 L338.5 787.2 L352.0 786.5 L369.0 789.5 L389.0 788.9 L406.0 783.8 L433.0 785.5 L464.0 787.8 L491.0 787.8 L500.0 787.2 L520.0 788.9 L554.0 790.5 L557.5 788.9 L737.0 785.5 L750.5 781.4 L771.0 782.0 L777.6 784.8 L906.0 778.0 L957.0 775.3 L1020.0 774.6 L1061.7 773.6 L1151.0 772.0 L1287.0 771.0 L1422.0 770.2 L1442.5 768.5 L1471.0 767.9" stroke="#2b2e46" stroke-width="1.2" fill="none"/>
<path d="M6.8 797.3 L22.0 797.3 L23.7 795.0 L67.7 793.9 L101.5 790.5 L120.0 788.9 L127.0 784.8 L138.8 783.8 L149.0 780.4 L162.5 777.0 L184.5 777.7 L196.3 772.6 L216.7 768.5 L230.0 766.2 L237.0 769.2 L247.0 770.9 L260.7 767.5 L281.0 768.5 L294.5 765.2 L314.8 767.2 L318.0 774.3 L338.5 773.6 L352.0 774.3 L367.0 770.2 L389.0 771.2 L403.0 777.7 L433.0 776.0 L464.0 774.6 L491.0 773.6 L520.0 775.3 L534.0 772.0 L556.0 772.0 L557.5 775.3 L635.0 773.0 L771.0 773.6 L906.0 777.0 L960.0 773.6 L1020.0 774.3 L1061.7 773.8 L1062.2 779.4 L1131.0 778.0 L1132.8 779.4 L1253.0 780.4 L1283.0 781.4 L1471.0 779.4" stroke="#2b2e46" stroke-width="1.2" fill="none"/>
<path d="M6.8 797.3 L254.0 797.3 L271.0 795.0 L288.0 793.6 L338.5 794.0 L406.0 793.2 L457.0 791.6 L520.0 790.5 L635.0 790.5 L771.0 792.9 L791.0 791.6 L798.0 794.0 L906.0 794.0 L1016.0 795.6 L1061.0 796.0 L1062.7 792.2 L1107.0 792.9 L1280.0 794.0" stroke="#2b2e46" stroke-width="1.2" fill="none"/>
<rect x="1471" y="766" width="51" height="31.5" fill="#212439"/>
<path d="M1471.6 796V788.2M1472.9 796V788.6M1474.2 796V787.9M1475.5 796V788.5M1476.8 796V788.6M1478.1 796V788.5M1479.4 796V788.3M1480.7 796V789.0M1482.0 796V790.5M1483.3 796V790.8M1484.6 796V789.9M1485.9 796V789.8M1487.2 796V790.6M1488.5 796V790.8M1489.8 796V790.3M1491.1 796V790.2M1492.4 796V790.6M1493.7 796V789.9M1495.0 796V790.0M1496.3 796V789.8M1497.6 796V789.4M1498.9 796V788.4M1500.2 796V787.5M1501.5 796V787.7M1502.8 796V787.9M1504.1 796V787.1M1505.4 796V787.5M1506.7 796V787.1M1508.0 796V787.5M1509.3 796V787.1M1510.6 796V786.7M1511.9 796V786.5M1513.2 796V786.2M1514.5 796V786.7M1515.8 796V786.0M1517.1 796V785.1M1518.4 796V784.7M1519.7 796V784.4M1521.0 796V785.7" stroke="#176a2f" stroke-width="1.1" fill="none"/>
<path d="M1471 768H1480L1488 766.2L1522 765.7" stroke="#5275ff" stroke-width="1.6" fill="none"/>
<path d="M1473 779.6L1480 779.2L1486 778.7L1492 779.8L1522 779.6" stroke="#ff5b5b" stroke-width="1.4" fill="none"/>
<path d="M1471 796L1479 796.3L1484 797.3H1522" stroke="#ffcb47" stroke-width="1.5" fill="none"/>
<rect x="1469.2" y="775" width="3.8" height="13.5" rx="1.2" fill="#a4a8c6"/>
<rect x="1520.4" y="775" width="3.6" height="13.5" rx="1.2" fill="#a4a8c6"/>
</svg>
<div class="botbar"></div><div style="position:absolute;left:1534.4px;top:13px;width:1.6px;height:798px;background:#0d0e18"></div>
</div></body></html>
